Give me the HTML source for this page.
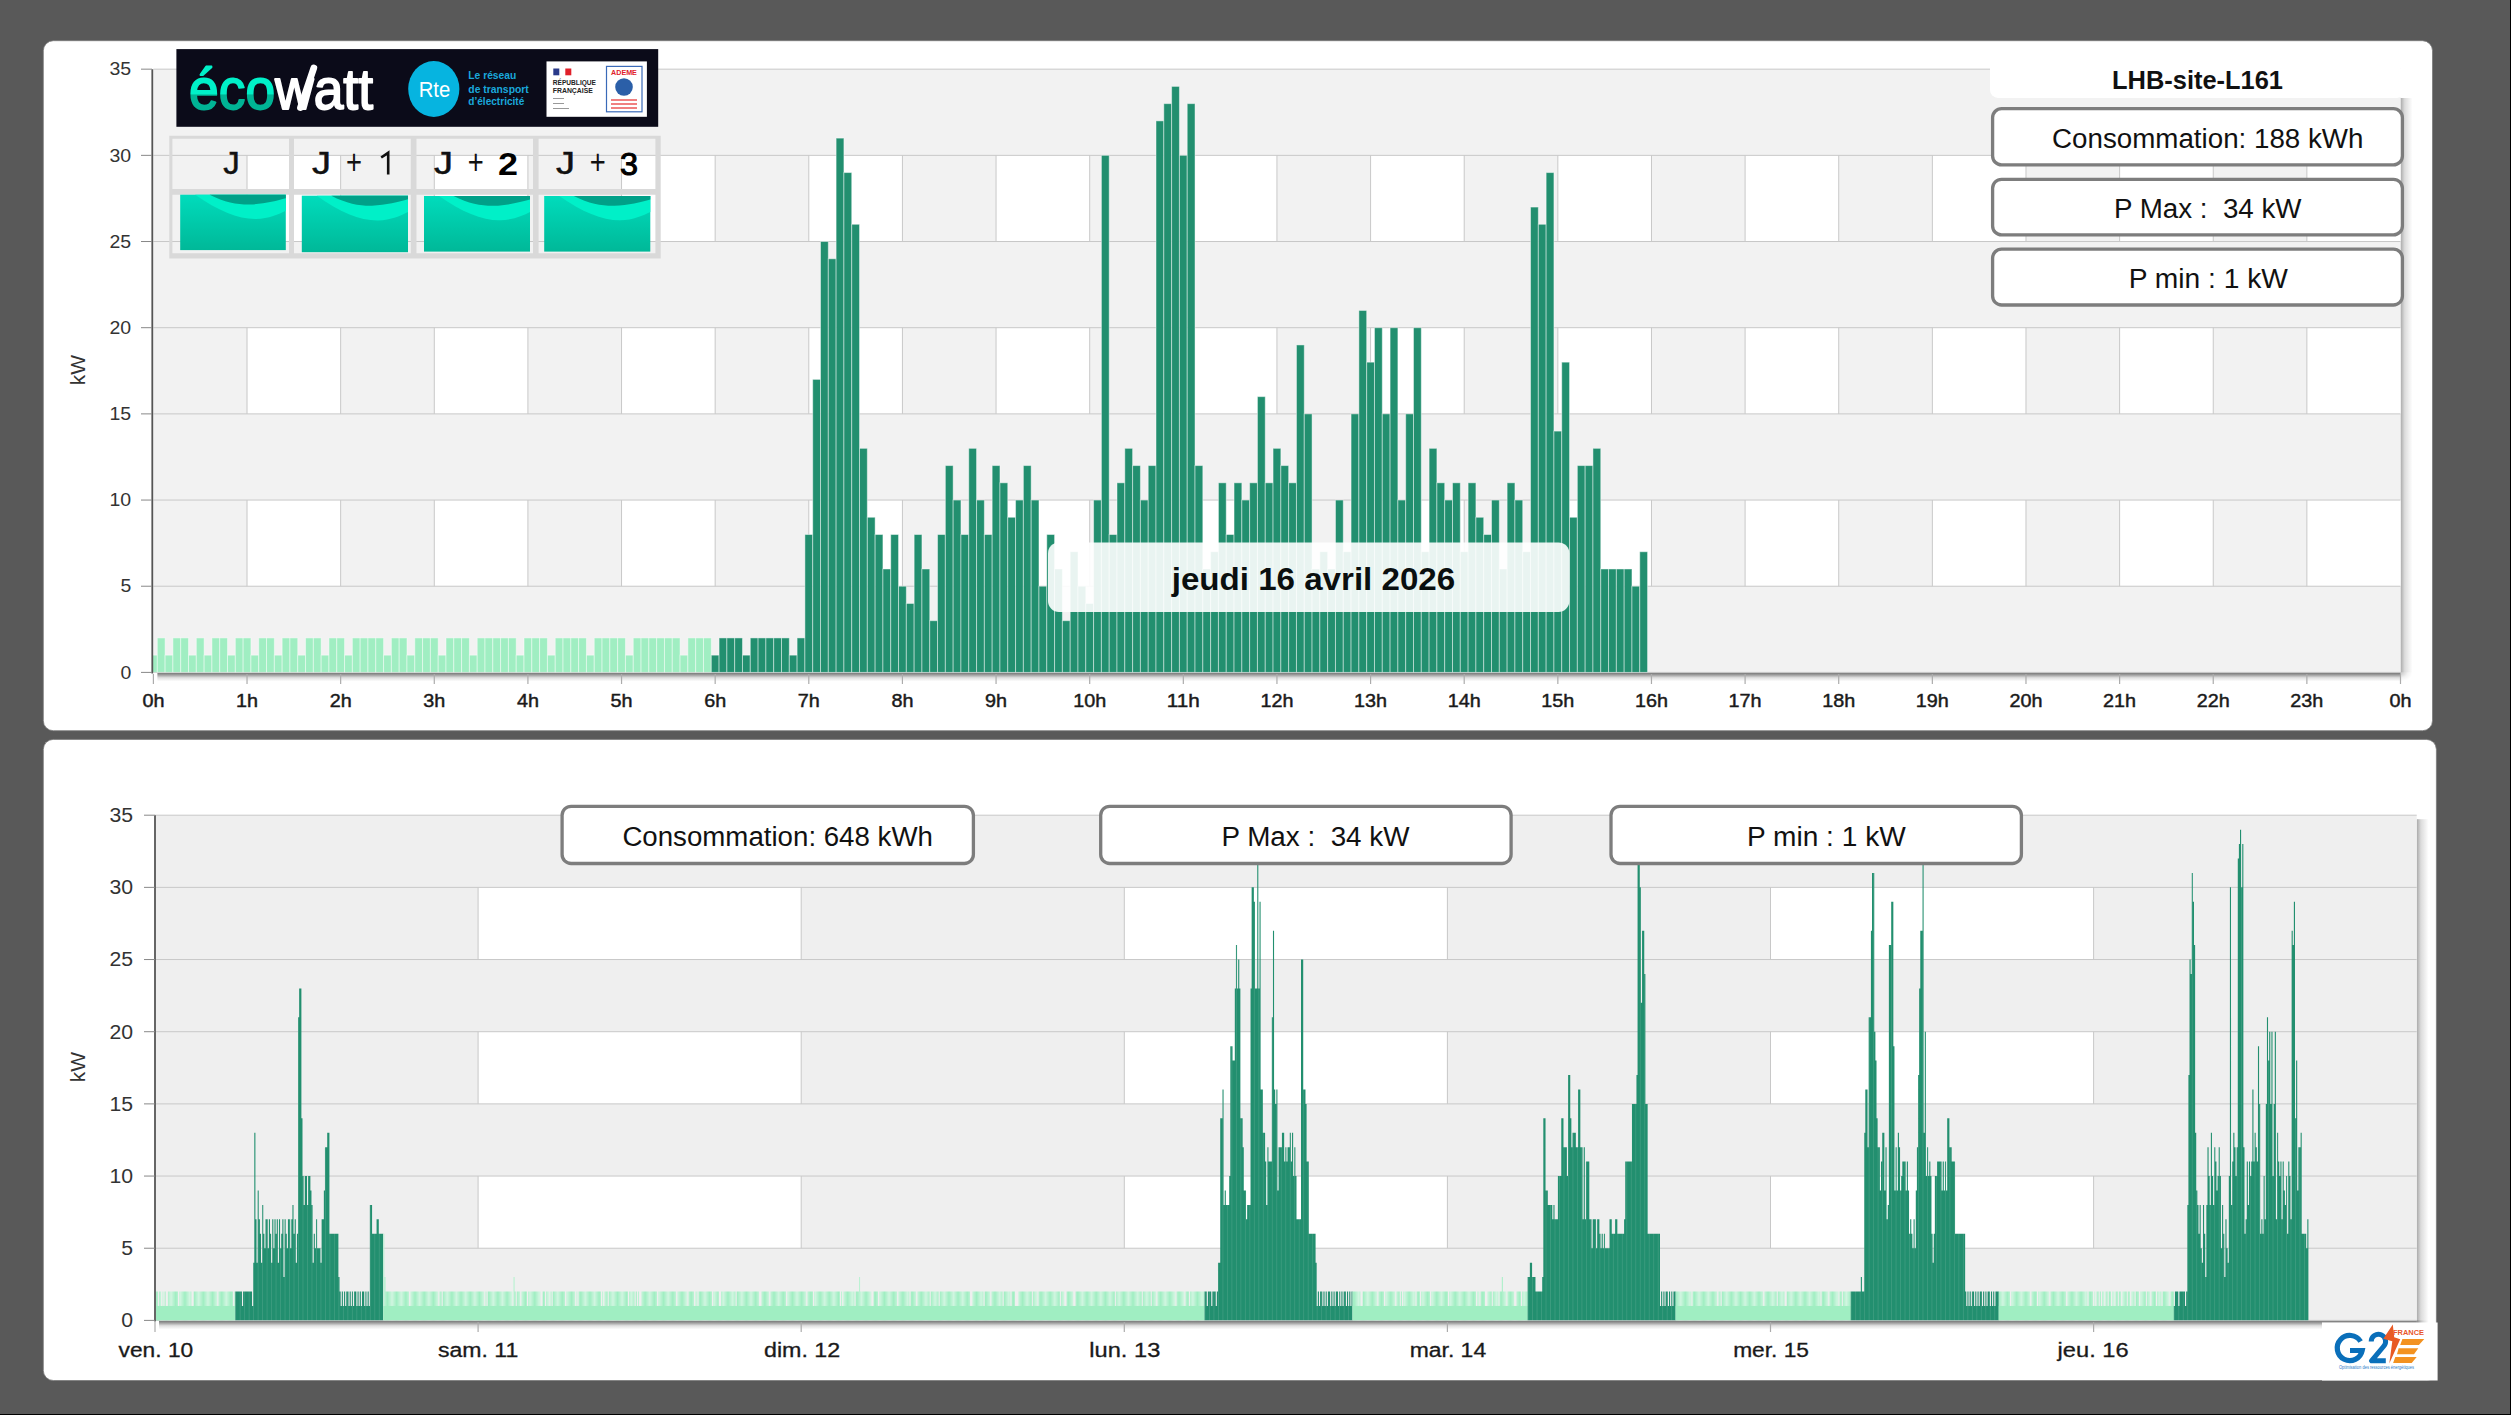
<!DOCTYPE html><html><head><meta charset="utf-8"><style>html,body{margin:0;padding:0;background:#595959;width:2511px;height:1415px;overflow:hidden}svg{display:block}text{font-family:"Liberation Sans",sans-serif}</style></head><body>
<svg width="2511" height="1415" viewBox="0 0 2511 1415">
<defs>
<linearGradient id="tealg" x1="0" y1="0" x2="0" y2="1"><stop offset="0" stop-color="#00dcbc"/><stop offset="1" stop-color="#00b898"/></linearGradient>
<clipPath id="clip1"><rect x="153" y="60" width="2248.5" height="612.4"/></clipPath>
<clipPath id="clip2"><rect x="155" y="800" width="2261.7" height="520.4"/></clipPath>
<linearGradient id="shR" x1="0" y1="0" x2="1" y2="0"><stop offset="0" stop-color="#000" stop-opacity="0.34"/><stop offset="0.35" stop-color="#000" stop-opacity="0.14"/><stop offset="1" stop-color="#000" stop-opacity="0"/></linearGradient>
<linearGradient id="shB" x1="0" y1="0" x2="0" y2="1"><stop offset="0" stop-color="#000" stop-opacity="0.56"/><stop offset="0.25" stop-color="#000" stop-opacity="0.4"/><stop offset="0.6" stop-color="#000" stop-opacity="0.12"/><stop offset="1" stop-color="#000" stop-opacity="0"/></linearGradient>
<radialGradient id="shC" cx="0" cy="0" r="1"><stop offset="0" stop-color="#000" stop-opacity="0.22"/><stop offset="0.6" stop-color="#000" stop-opacity="0.05"/><stop offset="1" stop-color="#000" stop-opacity="0"/></radialGradient>
<pattern id="lgp" patternUnits="userSpaceOnUse" x="154.4391" y="0" width="1.12188" height="10"><rect width="2" height="10" fill="#a0eec2"/><rect x="0" width="0.5" height="10" fill="#d6f6e4"/></pattern>
<pattern id="dgp" patternUnits="userSpaceOnUse" x="154.4391" y="0" width="4.48750" height="10"><rect width="6" height="10" fill="#228f6f"/><rect x="0" width="0.4" height="10" fill="#5aab90"/></pattern>
</defs>
<rect x="0" y="0" width="2511" height="1415" fill="#595959"/>
<rect x="2510" y="0" width="1" height="1415" fill="#000"/>
<rect x="0" y="1414" width="2511" height="1" fill="#000"/>
<rect x="43.3" y="40.7" width="2389.2" height="690" rx="10" fill="#fff" stroke="#7a7a7a" stroke-width="0.8"/>
<rect x="43.3" y="739.4" width="2393.1" height="641.1" rx="10" fill="#fff" stroke="#7a7a7a" stroke-width="0.8"/>
<rect x="2400.5" y="98" width="12" height="574.4" fill="url(#shR)"/>
<rect x="157.4" y="672.4" width="2243.1" height="9" fill="url(#shB)"/>
<rect x="2400.5" y="672.4" width="12" height="9" fill="url(#shC)"/>
<rect x="153.4" y="69.17" width="2247.1" height="603.23" fill="#f2f2f2"/>
<rect x="247.03" y="500.05" width="93.63" height="86.17" fill="#fff"/>
<rect x="434.29" y="500.05" width="93.63" height="86.17" fill="#fff"/>
<rect x="621.55" y="500.05" width="93.63" height="86.17" fill="#fff"/>
<rect x="808.8" y="500.05" width="93.63" height="86.17" fill="#fff"/>
<rect x="996.06" y="500.05" width="93.63" height="86.17" fill="#fff"/>
<rect x="1183.32" y="500.05" width="93.63" height="86.17" fill="#fff"/>
<rect x="1370.58" y="500.05" width="93.63" height="86.17" fill="#fff"/>
<rect x="1557.84" y="500.05" width="93.63" height="86.17" fill="#fff"/>
<rect x="1745.1" y="500.05" width="93.63" height="86.17" fill="#fff"/>
<rect x="1932.35" y="500.05" width="93.63" height="86.17" fill="#fff"/>
<rect x="2119.61" y="500.05" width="93.63" height="86.17" fill="#fff"/>
<rect x="2306.87" y="500.05" width="93.63" height="86.17" fill="#fff"/>
<line x1="247.03" y1="500.05" x2="247.03" y2="586.23" stroke="#c8c8c8" stroke-width="1"/>
<line x1="340.66" y1="500.05" x2="340.66" y2="586.23" stroke="#c8c8c8" stroke-width="1"/>
<line x1="434.29" y1="500.05" x2="434.29" y2="586.23" stroke="#c8c8c8" stroke-width="1"/>
<line x1="527.92" y1="500.05" x2="527.92" y2="586.23" stroke="#c8c8c8" stroke-width="1"/>
<line x1="621.55" y1="500.05" x2="621.55" y2="586.23" stroke="#c8c8c8" stroke-width="1"/>
<line x1="715.17" y1="500.05" x2="715.17" y2="586.23" stroke="#c8c8c8" stroke-width="1"/>
<line x1="808.8" y1="500.05" x2="808.8" y2="586.23" stroke="#c8c8c8" stroke-width="1"/>
<line x1="902.43" y1="500.05" x2="902.43" y2="586.23" stroke="#c8c8c8" stroke-width="1"/>
<line x1="996.06" y1="500.05" x2="996.06" y2="586.23" stroke="#c8c8c8" stroke-width="1"/>
<line x1="1089.69" y1="500.05" x2="1089.69" y2="586.23" stroke="#c8c8c8" stroke-width="1"/>
<line x1="1183.32" y1="500.05" x2="1183.32" y2="586.23" stroke="#c8c8c8" stroke-width="1"/>
<line x1="1276.95" y1="500.05" x2="1276.95" y2="586.23" stroke="#c8c8c8" stroke-width="1"/>
<line x1="1370.58" y1="500.05" x2="1370.58" y2="586.23" stroke="#c8c8c8" stroke-width="1"/>
<line x1="1464.21" y1="500.05" x2="1464.21" y2="586.23" stroke="#c8c8c8" stroke-width="1"/>
<line x1="1557.84" y1="500.05" x2="1557.84" y2="586.23" stroke="#c8c8c8" stroke-width="1"/>
<line x1="1651.47" y1="500.05" x2="1651.47" y2="586.23" stroke="#c8c8c8" stroke-width="1"/>
<line x1="1745.1" y1="500.05" x2="1745.1" y2="586.23" stroke="#c8c8c8" stroke-width="1"/>
<line x1="1838.72" y1="500.05" x2="1838.72" y2="586.23" stroke="#c8c8c8" stroke-width="1"/>
<line x1="1932.35" y1="500.05" x2="1932.35" y2="586.23" stroke="#c8c8c8" stroke-width="1"/>
<line x1="2025.98" y1="500.05" x2="2025.98" y2="586.23" stroke="#c8c8c8" stroke-width="1"/>
<line x1="2119.61" y1="500.05" x2="2119.61" y2="586.23" stroke="#c8c8c8" stroke-width="1"/>
<line x1="2213.24" y1="500.05" x2="2213.24" y2="586.23" stroke="#c8c8c8" stroke-width="1"/>
<line x1="2306.87" y1="500.05" x2="2306.87" y2="586.23" stroke="#c8c8c8" stroke-width="1"/>
<rect x="247.03" y="327.7" width="93.63" height="86.17" fill="#fff"/>
<rect x="434.29" y="327.7" width="93.63" height="86.17" fill="#fff"/>
<rect x="621.55" y="327.7" width="93.63" height="86.17" fill="#fff"/>
<rect x="808.8" y="327.7" width="93.63" height="86.17" fill="#fff"/>
<rect x="996.06" y="327.7" width="93.63" height="86.17" fill="#fff"/>
<rect x="1183.32" y="327.7" width="93.63" height="86.17" fill="#fff"/>
<rect x="1370.58" y="327.7" width="93.63" height="86.17" fill="#fff"/>
<rect x="1557.84" y="327.7" width="93.63" height="86.17" fill="#fff"/>
<rect x="1745.1" y="327.7" width="93.63" height="86.17" fill="#fff"/>
<rect x="1932.35" y="327.7" width="93.63" height="86.17" fill="#fff"/>
<rect x="2119.61" y="327.7" width="93.63" height="86.17" fill="#fff"/>
<rect x="2306.87" y="327.7" width="93.63" height="86.17" fill="#fff"/>
<line x1="247.03" y1="327.7" x2="247.03" y2="413.88" stroke="#c8c8c8" stroke-width="1"/>
<line x1="340.66" y1="327.7" x2="340.66" y2="413.88" stroke="#c8c8c8" stroke-width="1"/>
<line x1="434.29" y1="327.7" x2="434.29" y2="413.88" stroke="#c8c8c8" stroke-width="1"/>
<line x1="527.92" y1="327.7" x2="527.92" y2="413.88" stroke="#c8c8c8" stroke-width="1"/>
<line x1="621.55" y1="327.7" x2="621.55" y2="413.88" stroke="#c8c8c8" stroke-width="1"/>
<line x1="715.17" y1="327.7" x2="715.17" y2="413.88" stroke="#c8c8c8" stroke-width="1"/>
<line x1="808.8" y1="327.7" x2="808.8" y2="413.88" stroke="#c8c8c8" stroke-width="1"/>
<line x1="902.43" y1="327.7" x2="902.43" y2="413.88" stroke="#c8c8c8" stroke-width="1"/>
<line x1="996.06" y1="327.7" x2="996.06" y2="413.88" stroke="#c8c8c8" stroke-width="1"/>
<line x1="1089.69" y1="327.7" x2="1089.69" y2="413.88" stroke="#c8c8c8" stroke-width="1"/>
<line x1="1183.32" y1="327.7" x2="1183.32" y2="413.88" stroke="#c8c8c8" stroke-width="1"/>
<line x1="1276.95" y1="327.7" x2="1276.95" y2="413.88" stroke="#c8c8c8" stroke-width="1"/>
<line x1="1370.58" y1="327.7" x2="1370.58" y2="413.88" stroke="#c8c8c8" stroke-width="1"/>
<line x1="1464.21" y1="327.7" x2="1464.21" y2="413.88" stroke="#c8c8c8" stroke-width="1"/>
<line x1="1557.84" y1="327.7" x2="1557.84" y2="413.88" stroke="#c8c8c8" stroke-width="1"/>
<line x1="1651.47" y1="327.7" x2="1651.47" y2="413.88" stroke="#c8c8c8" stroke-width="1"/>
<line x1="1745.1" y1="327.7" x2="1745.1" y2="413.88" stroke="#c8c8c8" stroke-width="1"/>
<line x1="1838.72" y1="327.7" x2="1838.72" y2="413.88" stroke="#c8c8c8" stroke-width="1"/>
<line x1="1932.35" y1="327.7" x2="1932.35" y2="413.88" stroke="#c8c8c8" stroke-width="1"/>
<line x1="2025.98" y1="327.7" x2="2025.98" y2="413.88" stroke="#c8c8c8" stroke-width="1"/>
<line x1="2119.61" y1="327.7" x2="2119.61" y2="413.88" stroke="#c8c8c8" stroke-width="1"/>
<line x1="2213.24" y1="327.7" x2="2213.24" y2="413.88" stroke="#c8c8c8" stroke-width="1"/>
<line x1="2306.87" y1="327.7" x2="2306.87" y2="413.88" stroke="#c8c8c8" stroke-width="1"/>
<rect x="247.03" y="155.35" width="93.63" height="86.17" fill="#fff"/>
<rect x="434.29" y="155.35" width="93.63" height="86.17" fill="#fff"/>
<rect x="621.55" y="155.35" width="93.63" height="86.17" fill="#fff"/>
<rect x="808.8" y="155.35" width="93.63" height="86.17" fill="#fff"/>
<rect x="996.06" y="155.35" width="93.63" height="86.17" fill="#fff"/>
<rect x="1183.32" y="155.35" width="93.63" height="86.17" fill="#fff"/>
<rect x="1370.58" y="155.35" width="93.63" height="86.17" fill="#fff"/>
<rect x="1557.84" y="155.35" width="93.63" height="86.17" fill="#fff"/>
<rect x="1745.1" y="155.35" width="93.63" height="86.17" fill="#fff"/>
<rect x="1932.35" y="155.35" width="93.63" height="86.17" fill="#fff"/>
<rect x="2119.61" y="155.35" width="93.63" height="86.17" fill="#fff"/>
<rect x="2306.87" y="155.35" width="93.63" height="86.17" fill="#fff"/>
<line x1="247.03" y1="155.35" x2="247.03" y2="241.52" stroke="#c8c8c8" stroke-width="1"/>
<line x1="340.66" y1="155.35" x2="340.66" y2="241.52" stroke="#c8c8c8" stroke-width="1"/>
<line x1="434.29" y1="155.35" x2="434.29" y2="241.52" stroke="#c8c8c8" stroke-width="1"/>
<line x1="527.92" y1="155.35" x2="527.92" y2="241.52" stroke="#c8c8c8" stroke-width="1"/>
<line x1="621.55" y1="155.35" x2="621.55" y2="241.52" stroke="#c8c8c8" stroke-width="1"/>
<line x1="715.17" y1="155.35" x2="715.17" y2="241.52" stroke="#c8c8c8" stroke-width="1"/>
<line x1="808.8" y1="155.35" x2="808.8" y2="241.52" stroke="#c8c8c8" stroke-width="1"/>
<line x1="902.43" y1="155.35" x2="902.43" y2="241.52" stroke="#c8c8c8" stroke-width="1"/>
<line x1="996.06" y1="155.35" x2="996.06" y2="241.52" stroke="#c8c8c8" stroke-width="1"/>
<line x1="1089.69" y1="155.35" x2="1089.69" y2="241.52" stroke="#c8c8c8" stroke-width="1"/>
<line x1="1183.32" y1="155.35" x2="1183.32" y2="241.52" stroke="#c8c8c8" stroke-width="1"/>
<line x1="1276.95" y1="155.35" x2="1276.95" y2="241.52" stroke="#c8c8c8" stroke-width="1"/>
<line x1="1370.58" y1="155.35" x2="1370.58" y2="241.52" stroke="#c8c8c8" stroke-width="1"/>
<line x1="1464.21" y1="155.35" x2="1464.21" y2="241.52" stroke="#c8c8c8" stroke-width="1"/>
<line x1="1557.84" y1="155.35" x2="1557.84" y2="241.52" stroke="#c8c8c8" stroke-width="1"/>
<line x1="1651.47" y1="155.35" x2="1651.47" y2="241.52" stroke="#c8c8c8" stroke-width="1"/>
<line x1="1745.1" y1="155.35" x2="1745.1" y2="241.52" stroke="#c8c8c8" stroke-width="1"/>
<line x1="1838.72" y1="155.35" x2="1838.72" y2="241.52" stroke="#c8c8c8" stroke-width="1"/>
<line x1="1932.35" y1="155.35" x2="1932.35" y2="241.52" stroke="#c8c8c8" stroke-width="1"/>
<line x1="2025.98" y1="155.35" x2="2025.98" y2="241.52" stroke="#c8c8c8" stroke-width="1"/>
<line x1="2119.61" y1="155.35" x2="2119.61" y2="241.52" stroke="#c8c8c8" stroke-width="1"/>
<line x1="2213.24" y1="155.35" x2="2213.24" y2="241.52" stroke="#c8c8c8" stroke-width="1"/>
<line x1="2306.87" y1="155.35" x2="2306.87" y2="241.52" stroke="#c8c8c8" stroke-width="1"/>
<line x1="153.4" y1="672.4" x2="2400.5" y2="672.4" stroke="#c8c8c8" stroke-width="1"/>
<line x1="153.4" y1="586.23" x2="2400.5" y2="586.23" stroke="#c8c8c8" stroke-width="1"/>
<line x1="153.4" y1="500.05" x2="2400.5" y2="500.05" stroke="#c8c8c8" stroke-width="1"/>
<line x1="153.4" y1="413.88" x2="2400.5" y2="413.88" stroke="#c8c8c8" stroke-width="1"/>
<line x1="153.4" y1="327.7" x2="2400.5" y2="327.7" stroke="#c8c8c8" stroke-width="1"/>
<line x1="153.4" y1="241.52" x2="2400.5" y2="241.52" stroke="#c8c8c8" stroke-width="1"/>
<line x1="153.4" y1="155.35" x2="2400.5" y2="155.35" stroke="#c8c8c8" stroke-width="1"/>
<line x1="153.4" y1="69.17" x2="2400.5" y2="69.17" stroke="#c8c8c8" stroke-width="1"/>
<g clip-path="url(#clip1)">
<rect x="149.5" y="655.16" width="7.8" height="17.23" fill="#a0eec2" stroke="rgba(255,255,255,0.45)" stroke-width="1"/>
<rect x="157.3" y="637.93" width="7.8" height="34.47" fill="#a0eec2" stroke="rgba(255,255,255,0.45)" stroke-width="1"/>
<rect x="165.1" y="655.16" width="7.8" height="17.23" fill="#a0eec2" stroke="rgba(255,255,255,0.45)" stroke-width="1"/>
<rect x="172.91" y="637.93" width="7.8" height="34.47" fill="#a0eec2" stroke="rgba(255,255,255,0.45)" stroke-width="1"/>
<rect x="180.71" y="637.93" width="7.8" height="34.47" fill="#a0eec2" stroke="rgba(255,255,255,0.45)" stroke-width="1"/>
<rect x="188.51" y="655.16" width="7.8" height="17.23" fill="#a0eec2" stroke="rgba(255,255,255,0.45)" stroke-width="1"/>
<rect x="196.31" y="637.93" width="7.8" height="34.47" fill="#a0eec2" stroke="rgba(255,255,255,0.45)" stroke-width="1"/>
<rect x="204.12" y="655.16" width="7.8" height="17.23" fill="#a0eec2" stroke="rgba(255,255,255,0.45)" stroke-width="1"/>
<rect x="211.92" y="637.93" width="7.8" height="34.47" fill="#a0eec2" stroke="rgba(255,255,255,0.45)" stroke-width="1"/>
<rect x="219.72" y="637.93" width="7.8" height="34.47" fill="#a0eec2" stroke="rgba(255,255,255,0.45)" stroke-width="1"/>
<rect x="227.52" y="655.16" width="7.8" height="17.23" fill="#a0eec2" stroke="rgba(255,255,255,0.45)" stroke-width="1"/>
<rect x="235.33" y="637.93" width="7.8" height="34.47" fill="#a0eec2" stroke="rgba(255,255,255,0.45)" stroke-width="1"/>
<rect x="243.13" y="637.93" width="7.8" height="34.47" fill="#a0eec2" stroke="rgba(255,255,255,0.45)" stroke-width="1"/>
<rect x="250.93" y="655.16" width="7.8" height="17.23" fill="#a0eec2" stroke="rgba(255,255,255,0.45)" stroke-width="1"/>
<rect x="258.73" y="637.93" width="7.8" height="34.47" fill="#a0eec2" stroke="rgba(255,255,255,0.45)" stroke-width="1"/>
<rect x="266.54" y="637.93" width="7.8" height="34.47" fill="#a0eec2" stroke="rgba(255,255,255,0.45)" stroke-width="1"/>
<rect x="274.34" y="655.16" width="7.8" height="17.23" fill="#a0eec2" stroke="rgba(255,255,255,0.45)" stroke-width="1"/>
<rect x="282.14" y="637.93" width="7.8" height="34.47" fill="#a0eec2" stroke="rgba(255,255,255,0.45)" stroke-width="1"/>
<rect x="289.94" y="637.93" width="7.8" height="34.47" fill="#a0eec2" stroke="rgba(255,255,255,0.45)" stroke-width="1"/>
<rect x="297.74" y="655.16" width="7.8" height="17.23" fill="#a0eec2" stroke="rgba(255,255,255,0.45)" stroke-width="1"/>
<rect x="305.55" y="637.93" width="7.8" height="34.47" fill="#a0eec2" stroke="rgba(255,255,255,0.45)" stroke-width="1"/>
<rect x="313.35" y="637.93" width="7.8" height="34.47" fill="#a0eec2" stroke="rgba(255,255,255,0.45)" stroke-width="1"/>
<rect x="321.15" y="655.16" width="7.8" height="17.23" fill="#a0eec2" stroke="rgba(255,255,255,0.45)" stroke-width="1"/>
<rect x="328.95" y="637.93" width="7.8" height="34.47" fill="#a0eec2" stroke="rgba(255,255,255,0.45)" stroke-width="1"/>
<rect x="336.76" y="637.93" width="7.8" height="34.47" fill="#a0eec2" stroke="rgba(255,255,255,0.45)" stroke-width="1"/>
<rect x="344.56" y="655.16" width="7.8" height="17.23" fill="#a0eec2" stroke="rgba(255,255,255,0.45)" stroke-width="1"/>
<rect x="352.36" y="637.93" width="7.8" height="34.47" fill="#a0eec2" stroke="rgba(255,255,255,0.45)" stroke-width="1"/>
<rect x="360.16" y="637.93" width="7.8" height="34.47" fill="#a0eec2" stroke="rgba(255,255,255,0.45)" stroke-width="1"/>
<rect x="367.97" y="637.93" width="7.8" height="34.47" fill="#a0eec2" stroke="rgba(255,255,255,0.45)" stroke-width="1"/>
<rect x="375.77" y="637.93" width="7.8" height="34.47" fill="#a0eec2" stroke="rgba(255,255,255,0.45)" stroke-width="1"/>
<rect x="383.57" y="655.16" width="7.8" height="17.23" fill="#a0eec2" stroke="rgba(255,255,255,0.45)" stroke-width="1"/>
<rect x="391.37" y="637.93" width="7.8" height="34.47" fill="#a0eec2" stroke="rgba(255,255,255,0.45)" stroke-width="1"/>
<rect x="399.18" y="637.93" width="7.8" height="34.47" fill="#a0eec2" stroke="rgba(255,255,255,0.45)" stroke-width="1"/>
<rect x="406.98" y="655.16" width="7.8" height="17.23" fill="#a0eec2" stroke="rgba(255,255,255,0.45)" stroke-width="1"/>
<rect x="414.78" y="637.93" width="7.8" height="34.47" fill="#a0eec2" stroke="rgba(255,255,255,0.45)" stroke-width="1"/>
<rect x="422.58" y="637.93" width="7.8" height="34.47" fill="#a0eec2" stroke="rgba(255,255,255,0.45)" stroke-width="1"/>
<rect x="430.39" y="637.93" width="7.8" height="34.47" fill="#a0eec2" stroke="rgba(255,255,255,0.45)" stroke-width="1"/>
<rect x="438.19" y="655.16" width="7.8" height="17.23" fill="#a0eec2" stroke="rgba(255,255,255,0.45)" stroke-width="1"/>
<rect x="445.99" y="637.93" width="7.8" height="34.47" fill="#a0eec2" stroke="rgba(255,255,255,0.45)" stroke-width="1"/>
<rect x="453.79" y="637.93" width="7.8" height="34.47" fill="#a0eec2" stroke="rgba(255,255,255,0.45)" stroke-width="1"/>
<rect x="461.6" y="637.93" width="7.8" height="34.47" fill="#a0eec2" stroke="rgba(255,255,255,0.45)" stroke-width="1"/>
<rect x="469.4" y="655.16" width="7.8" height="17.23" fill="#a0eec2" stroke="rgba(255,255,255,0.45)" stroke-width="1"/>
<rect x="477.2" y="637.93" width="7.8" height="34.47" fill="#a0eec2" stroke="rgba(255,255,255,0.45)" stroke-width="1"/>
<rect x="485" y="637.93" width="7.8" height="34.47" fill="#a0eec2" stroke="rgba(255,255,255,0.45)" stroke-width="1"/>
<rect x="492.81" y="637.93" width="7.8" height="34.47" fill="#a0eec2" stroke="rgba(255,255,255,0.45)" stroke-width="1"/>
<rect x="500.61" y="637.93" width="7.8" height="34.47" fill="#a0eec2" stroke="rgba(255,255,255,0.45)" stroke-width="1"/>
<rect x="508.41" y="637.93" width="7.8" height="34.47" fill="#a0eec2" stroke="rgba(255,255,255,0.45)" stroke-width="1"/>
<rect x="516.21" y="655.16" width="7.8" height="17.23" fill="#a0eec2" stroke="rgba(255,255,255,0.45)" stroke-width="1"/>
<rect x="524.02" y="637.93" width="7.8" height="34.47" fill="#a0eec2" stroke="rgba(255,255,255,0.45)" stroke-width="1"/>
<rect x="531.82" y="637.93" width="7.8" height="34.47" fill="#a0eec2" stroke="rgba(255,255,255,0.45)" stroke-width="1"/>
<rect x="539.62" y="637.93" width="7.8" height="34.47" fill="#a0eec2" stroke="rgba(255,255,255,0.45)" stroke-width="1"/>
<rect x="547.42" y="655.16" width="7.8" height="17.23" fill="#a0eec2" stroke="rgba(255,255,255,0.45)" stroke-width="1"/>
<rect x="555.23" y="637.93" width="7.8" height="34.47" fill="#a0eec2" stroke="rgba(255,255,255,0.45)" stroke-width="1"/>
<rect x="563.03" y="637.93" width="7.8" height="34.47" fill="#a0eec2" stroke="rgba(255,255,255,0.45)" stroke-width="1"/>
<rect x="570.83" y="637.93" width="7.8" height="34.47" fill="#a0eec2" stroke="rgba(255,255,255,0.45)" stroke-width="1"/>
<rect x="578.63" y="637.93" width="7.8" height="34.47" fill="#a0eec2" stroke="rgba(255,255,255,0.45)" stroke-width="1"/>
<rect x="586.43" y="655.16" width="7.8" height="17.23" fill="#a0eec2" stroke="rgba(255,255,255,0.45)" stroke-width="1"/>
<rect x="594.24" y="637.93" width="7.8" height="34.47" fill="#a0eec2" stroke="rgba(255,255,255,0.45)" stroke-width="1"/>
<rect x="602.04" y="637.93" width="7.8" height="34.47" fill="#a0eec2" stroke="rgba(255,255,255,0.45)" stroke-width="1"/>
<rect x="609.84" y="637.93" width="7.8" height="34.47" fill="#a0eec2" stroke="rgba(255,255,255,0.45)" stroke-width="1"/>
<rect x="617.64" y="637.93" width="7.8" height="34.47" fill="#a0eec2" stroke="rgba(255,255,255,0.45)" stroke-width="1"/>
<rect x="625.45" y="655.16" width="7.8" height="17.23" fill="#a0eec2" stroke="rgba(255,255,255,0.45)" stroke-width="1"/>
<rect x="633.25" y="637.93" width="7.8" height="34.47" fill="#a0eec2" stroke="rgba(255,255,255,0.45)" stroke-width="1"/>
<rect x="641.05" y="637.93" width="7.8" height="34.47" fill="#a0eec2" stroke="rgba(255,255,255,0.45)" stroke-width="1"/>
<rect x="648.85" y="637.93" width="7.8" height="34.47" fill="#a0eec2" stroke="rgba(255,255,255,0.45)" stroke-width="1"/>
<rect x="656.66" y="637.93" width="7.8" height="34.47" fill="#a0eec2" stroke="rgba(255,255,255,0.45)" stroke-width="1"/>
<rect x="664.46" y="637.93" width="7.8" height="34.47" fill="#a0eec2" stroke="rgba(255,255,255,0.45)" stroke-width="1"/>
<rect x="672.26" y="637.93" width="7.8" height="34.47" fill="#a0eec2" stroke="rgba(255,255,255,0.45)" stroke-width="1"/>
<rect x="680.06" y="655.16" width="7.8" height="17.23" fill="#a0eec2" stroke="rgba(255,255,255,0.45)" stroke-width="1"/>
<rect x="687.87" y="637.93" width="7.8" height="34.47" fill="#a0eec2" stroke="rgba(255,255,255,0.45)" stroke-width="1"/>
<rect x="695.67" y="637.93" width="7.8" height="34.47" fill="#a0eec2" stroke="rgba(255,255,255,0.45)" stroke-width="1"/>
<rect x="703.47" y="637.93" width="7.8" height="34.47" fill="#a0eec2" stroke="rgba(255,255,255,0.45)" stroke-width="1"/>
<rect x="711.27" y="655.16" width="7.8" height="17.23" fill="#228f6f" stroke="rgba(255,255,255,0.45)" stroke-width="1"/>
<rect x="719.08" y="637.93" width="7.8" height="34.47" fill="#228f6f" stroke="rgba(255,255,255,0.45)" stroke-width="1"/>
<rect x="726.88" y="637.93" width="7.8" height="34.47" fill="#228f6f" stroke="rgba(255,255,255,0.45)" stroke-width="1"/>
<rect x="734.68" y="637.93" width="7.8" height="34.47" fill="#228f6f" stroke="rgba(255,255,255,0.45)" stroke-width="1"/>
<rect x="742.48" y="655.16" width="7.8" height="17.23" fill="#228f6f" stroke="rgba(255,255,255,0.45)" stroke-width="1"/>
<rect x="750.29" y="637.93" width="7.8" height="34.47" fill="#228f6f" stroke="rgba(255,255,255,0.45)" stroke-width="1"/>
<rect x="758.09" y="637.93" width="7.8" height="34.47" fill="#228f6f" stroke="rgba(255,255,255,0.45)" stroke-width="1"/>
<rect x="765.89" y="637.93" width="7.8" height="34.47" fill="#228f6f" stroke="rgba(255,255,255,0.45)" stroke-width="1"/>
<rect x="773.69" y="637.93" width="7.8" height="34.47" fill="#228f6f" stroke="rgba(255,255,255,0.45)" stroke-width="1"/>
<rect x="781.5" y="637.93" width="7.8" height="34.47" fill="#228f6f" stroke="rgba(255,255,255,0.45)" stroke-width="1"/>
<rect x="789.3" y="655.16" width="7.8" height="17.23" fill="#228f6f" stroke="rgba(255,255,255,0.45)" stroke-width="1"/>
<rect x="797.1" y="637.93" width="7.8" height="34.47" fill="#228f6f" stroke="rgba(255,255,255,0.45)" stroke-width="1"/>
<rect x="804.9" y="534.52" width="7.8" height="137.88" fill="#228f6f" stroke="rgba(255,255,255,0.45)" stroke-width="1"/>
<rect x="812.71" y="379.4" width="7.8" height="293" fill="#228f6f" stroke="rgba(255,255,255,0.45)" stroke-width="1"/>
<rect x="820.51" y="241.52" width="7.8" height="430.88" fill="#228f6f" stroke="rgba(255,255,255,0.45)" stroke-width="1"/>
<rect x="828.31" y="258.76" width="7.8" height="413.64" fill="#228f6f" stroke="rgba(255,255,255,0.45)" stroke-width="1"/>
<rect x="836.11" y="138.12" width="7.8" height="534.28" fill="#228f6f" stroke="rgba(255,255,255,0.45)" stroke-width="1"/>
<rect x="843.92" y="172.58" width="7.8" height="499.81" fill="#228f6f" stroke="rgba(255,255,255,0.45)" stroke-width="1"/>
<rect x="851.72" y="224.29" width="7.8" height="448.11" fill="#228f6f" stroke="rgba(255,255,255,0.45)" stroke-width="1"/>
<rect x="859.52" y="448.34" width="7.8" height="224.06" fill="#228f6f" stroke="rgba(255,255,255,0.45)" stroke-width="1"/>
<rect x="867.32" y="517.28" width="7.8" height="155.12" fill="#228f6f" stroke="rgba(255,255,255,0.45)" stroke-width="1"/>
<rect x="875.12" y="534.52" width="7.8" height="137.88" fill="#228f6f" stroke="rgba(255,255,255,0.45)" stroke-width="1"/>
<rect x="882.93" y="568.99" width="7.8" height="103.41" fill="#228f6f" stroke="rgba(255,255,255,0.45)" stroke-width="1"/>
<rect x="890.73" y="534.52" width="7.8" height="137.88" fill="#228f6f" stroke="rgba(255,255,255,0.45)" stroke-width="1"/>
<rect x="898.53" y="586.23" width="7.8" height="86.17" fill="#228f6f" stroke="rgba(255,255,255,0.45)" stroke-width="1"/>
<rect x="906.33" y="603.46" width="7.8" height="68.94" fill="#228f6f" stroke="rgba(255,255,255,0.45)" stroke-width="1"/>
<rect x="914.14" y="534.52" width="7.8" height="137.88" fill="#228f6f" stroke="rgba(255,255,255,0.45)" stroke-width="1"/>
<rect x="921.94" y="568.99" width="7.8" height="103.41" fill="#228f6f" stroke="rgba(255,255,255,0.45)" stroke-width="1"/>
<rect x="929.74" y="620.69" width="7.8" height="51.7" fill="#228f6f" stroke="rgba(255,255,255,0.45)" stroke-width="1"/>
<rect x="937.54" y="534.52" width="7.8" height="137.88" fill="#228f6f" stroke="rgba(255,255,255,0.45)" stroke-width="1"/>
<rect x="945.35" y="465.58" width="7.8" height="206.82" fill="#228f6f" stroke="rgba(255,255,255,0.45)" stroke-width="1"/>
<rect x="953.15" y="500.05" width="7.8" height="172.35" fill="#228f6f" stroke="rgba(255,255,255,0.45)" stroke-width="1"/>
<rect x="960.95" y="534.52" width="7.8" height="137.88" fill="#228f6f" stroke="rgba(255,255,255,0.45)" stroke-width="1"/>
<rect x="968.75" y="448.34" width="7.8" height="224.06" fill="#228f6f" stroke="rgba(255,255,255,0.45)" stroke-width="1"/>
<rect x="976.56" y="500.05" width="7.8" height="172.35" fill="#228f6f" stroke="rgba(255,255,255,0.45)" stroke-width="1"/>
<rect x="984.36" y="534.52" width="7.8" height="137.88" fill="#228f6f" stroke="rgba(255,255,255,0.45)" stroke-width="1"/>
<rect x="992.16" y="465.58" width="7.8" height="206.82" fill="#228f6f" stroke="rgba(255,255,255,0.45)" stroke-width="1"/>
<rect x="999.96" y="482.81" width="7.8" height="189.58" fill="#228f6f" stroke="rgba(255,255,255,0.45)" stroke-width="1"/>
<rect x="1007.77" y="517.28" width="7.8" height="155.12" fill="#228f6f" stroke="rgba(255,255,255,0.45)" stroke-width="1"/>
<rect x="1015.57" y="500.05" width="7.8" height="172.35" fill="#228f6f" stroke="rgba(255,255,255,0.45)" stroke-width="1"/>
<rect x="1023.37" y="465.58" width="7.8" height="206.82" fill="#228f6f" stroke="rgba(255,255,255,0.45)" stroke-width="1"/>
<rect x="1031.17" y="500.05" width="7.8" height="172.35" fill="#228f6f" stroke="rgba(255,255,255,0.45)" stroke-width="1"/>
<rect x="1038.98" y="586.23" width="7.8" height="86.17" fill="#228f6f" stroke="rgba(255,255,255,0.45)" stroke-width="1"/>
<rect x="1046.78" y="534.52" width="7.8" height="137.88" fill="#228f6f" stroke="rgba(255,255,255,0.45)" stroke-width="1"/>
<rect x="1054.58" y="568.99" width="7.8" height="103.41" fill="#228f6f" stroke="rgba(255,255,255,0.45)" stroke-width="1"/>
<rect x="1062.38" y="620.69" width="7.8" height="51.7" fill="#228f6f" stroke="rgba(255,255,255,0.45)" stroke-width="1"/>
<rect x="1070.19" y="551.75" width="7.8" height="120.64" fill="#228f6f" stroke="rgba(255,255,255,0.45)" stroke-width="1"/>
<rect x="1077.99" y="586.23" width="7.8" height="86.17" fill="#228f6f" stroke="rgba(255,255,255,0.45)" stroke-width="1"/>
<rect x="1085.79" y="603.46" width="7.8" height="68.94" fill="#228f6f" stroke="rgba(255,255,255,0.45)" stroke-width="1"/>
<rect x="1093.59" y="500.05" width="7.8" height="172.35" fill="#228f6f" stroke="rgba(255,255,255,0.45)" stroke-width="1"/>
<rect x="1101.4" y="155.35" width="7.8" height="517.05" fill="#228f6f" stroke="rgba(255,255,255,0.45)" stroke-width="1"/>
<rect x="1109.2" y="534.52" width="7.8" height="137.88" fill="#228f6f" stroke="rgba(255,255,255,0.45)" stroke-width="1"/>
<rect x="1117" y="482.81" width="7.8" height="189.58" fill="#228f6f" stroke="rgba(255,255,255,0.45)" stroke-width="1"/>
<rect x="1124.8" y="448.34" width="7.8" height="224.06" fill="#228f6f" stroke="rgba(255,255,255,0.45)" stroke-width="1"/>
<rect x="1132.61" y="465.58" width="7.8" height="206.82" fill="#228f6f" stroke="rgba(255,255,255,0.45)" stroke-width="1"/>
<rect x="1140.41" y="500.05" width="7.8" height="172.35" fill="#228f6f" stroke="rgba(255,255,255,0.45)" stroke-width="1"/>
<rect x="1148.21" y="465.58" width="7.8" height="206.82" fill="#228f6f" stroke="rgba(255,255,255,0.45)" stroke-width="1"/>
<rect x="1156.01" y="120.88" width="7.8" height="551.52" fill="#228f6f" stroke="rgba(255,255,255,0.45)" stroke-width="1"/>
<rect x="1163.81" y="103.64" width="7.8" height="568.75" fill="#228f6f" stroke="rgba(255,255,255,0.45)" stroke-width="1"/>
<rect x="1171.62" y="86.41" width="7.8" height="585.99" fill="#228f6f" stroke="rgba(255,255,255,0.45)" stroke-width="1"/>
<rect x="1179.42" y="155.35" width="7.8" height="517.05" fill="#228f6f" stroke="rgba(255,255,255,0.45)" stroke-width="1"/>
<rect x="1187.22" y="103.64" width="7.8" height="568.75" fill="#228f6f" stroke="rgba(255,255,255,0.45)" stroke-width="1"/>
<rect x="1195.02" y="465.58" width="7.8" height="206.82" fill="#228f6f" stroke="rgba(255,255,255,0.45)" stroke-width="1"/>
<rect x="1202.83" y="568.99" width="7.8" height="103.41" fill="#228f6f" stroke="rgba(255,255,255,0.45)" stroke-width="1"/>
<rect x="1210.63" y="551.75" width="7.8" height="120.64" fill="#228f6f" stroke="rgba(255,255,255,0.45)" stroke-width="1"/>
<rect x="1218.43" y="482.81" width="7.8" height="189.58" fill="#228f6f" stroke="rgba(255,255,255,0.45)" stroke-width="1"/>
<rect x="1226.23" y="534.52" width="7.8" height="137.88" fill="#228f6f" stroke="rgba(255,255,255,0.45)" stroke-width="1"/>
<rect x="1234.04" y="482.81" width="7.8" height="189.58" fill="#228f6f" stroke="rgba(255,255,255,0.45)" stroke-width="1"/>
<rect x="1241.84" y="500.05" width="7.8" height="172.35" fill="#228f6f" stroke="rgba(255,255,255,0.45)" stroke-width="1"/>
<rect x="1249.64" y="482.81" width="7.8" height="189.58" fill="#228f6f" stroke="rgba(255,255,255,0.45)" stroke-width="1"/>
<rect x="1257.44" y="396.64" width="7.8" height="275.76" fill="#228f6f" stroke="rgba(255,255,255,0.45)" stroke-width="1"/>
<rect x="1265.25" y="482.81" width="7.8" height="189.58" fill="#228f6f" stroke="rgba(255,255,255,0.45)" stroke-width="1"/>
<rect x="1273.05" y="448.34" width="7.8" height="224.06" fill="#228f6f" stroke="rgba(255,255,255,0.45)" stroke-width="1"/>
<rect x="1280.85" y="465.58" width="7.8" height="206.82" fill="#228f6f" stroke="rgba(255,255,255,0.45)" stroke-width="1"/>
<rect x="1288.65" y="482.81" width="7.8" height="189.58" fill="#228f6f" stroke="rgba(255,255,255,0.45)" stroke-width="1"/>
<rect x="1296.46" y="344.94" width="7.8" height="327.46" fill="#228f6f" stroke="rgba(255,255,255,0.45)" stroke-width="1"/>
<rect x="1304.26" y="413.88" width="7.8" height="258.52" fill="#228f6f" stroke="rgba(255,255,255,0.45)" stroke-width="1"/>
<rect x="1312.06" y="568.99" width="7.8" height="103.41" fill="#228f6f" stroke="rgba(255,255,255,0.45)" stroke-width="1"/>
<rect x="1319.86" y="551.75" width="7.8" height="120.64" fill="#228f6f" stroke="rgba(255,255,255,0.45)" stroke-width="1"/>
<rect x="1327.67" y="568.99" width="7.8" height="103.41" fill="#228f6f" stroke="rgba(255,255,255,0.45)" stroke-width="1"/>
<rect x="1335.47" y="500.05" width="7.8" height="172.35" fill="#228f6f" stroke="rgba(255,255,255,0.45)" stroke-width="1"/>
<rect x="1343.27" y="551.75" width="7.8" height="120.64" fill="#228f6f" stroke="rgba(255,255,255,0.45)" stroke-width="1"/>
<rect x="1351.07" y="413.88" width="7.8" height="258.52" fill="#228f6f" stroke="rgba(255,255,255,0.45)" stroke-width="1"/>
<rect x="1358.88" y="310.46" width="7.8" height="361.94" fill="#228f6f" stroke="rgba(255,255,255,0.45)" stroke-width="1"/>
<rect x="1366.68" y="362.17" width="7.8" height="310.23" fill="#228f6f" stroke="rgba(255,255,255,0.45)" stroke-width="1"/>
<rect x="1374.48" y="327.7" width="7.8" height="344.7" fill="#228f6f" stroke="rgba(255,255,255,0.45)" stroke-width="1"/>
<rect x="1382.28" y="413.88" width="7.8" height="258.52" fill="#228f6f" stroke="rgba(255,255,255,0.45)" stroke-width="1"/>
<rect x="1390.09" y="327.7" width="7.8" height="344.7" fill="#228f6f" stroke="rgba(255,255,255,0.45)" stroke-width="1"/>
<rect x="1397.89" y="500.05" width="7.8" height="172.35" fill="#228f6f" stroke="rgba(255,255,255,0.45)" stroke-width="1"/>
<rect x="1405.69" y="413.88" width="7.8" height="258.52" fill="#228f6f" stroke="rgba(255,255,255,0.45)" stroke-width="1"/>
<rect x="1413.49" y="327.7" width="7.8" height="344.7" fill="#228f6f" stroke="rgba(255,255,255,0.45)" stroke-width="1"/>
<rect x="1421.29" y="551.75" width="7.8" height="120.64" fill="#228f6f" stroke="rgba(255,255,255,0.45)" stroke-width="1"/>
<rect x="1429.1" y="448.34" width="7.8" height="224.06" fill="#228f6f" stroke="rgba(255,255,255,0.45)" stroke-width="1"/>
<rect x="1436.9" y="482.81" width="7.8" height="189.58" fill="#228f6f" stroke="rgba(255,255,255,0.45)" stroke-width="1"/>
<rect x="1444.7" y="500.05" width="7.8" height="172.35" fill="#228f6f" stroke="rgba(255,255,255,0.45)" stroke-width="1"/>
<rect x="1452.5" y="482.81" width="7.8" height="189.58" fill="#228f6f" stroke="rgba(255,255,255,0.45)" stroke-width="1"/>
<rect x="1460.31" y="551.75" width="7.8" height="120.64" fill="#228f6f" stroke="rgba(255,255,255,0.45)" stroke-width="1"/>
<rect x="1468.11" y="482.81" width="7.8" height="189.58" fill="#228f6f" stroke="rgba(255,255,255,0.45)" stroke-width="1"/>
<rect x="1475.91" y="517.28" width="7.8" height="155.12" fill="#228f6f" stroke="rgba(255,255,255,0.45)" stroke-width="1"/>
<rect x="1483.71" y="534.52" width="7.8" height="137.88" fill="#228f6f" stroke="rgba(255,255,255,0.45)" stroke-width="1"/>
<rect x="1491.52" y="500.05" width="7.8" height="172.35" fill="#228f6f" stroke="rgba(255,255,255,0.45)" stroke-width="1"/>
<rect x="1499.32" y="568.99" width="7.8" height="103.41" fill="#228f6f" stroke="rgba(255,255,255,0.45)" stroke-width="1"/>
<rect x="1507.12" y="482.81" width="7.8" height="189.58" fill="#228f6f" stroke="rgba(255,255,255,0.45)" stroke-width="1"/>
<rect x="1514.92" y="500.05" width="7.8" height="172.35" fill="#228f6f" stroke="rgba(255,255,255,0.45)" stroke-width="1"/>
<rect x="1522.73" y="551.75" width="7.8" height="120.64" fill="#228f6f" stroke="rgba(255,255,255,0.45)" stroke-width="1"/>
<rect x="1530.53" y="207.06" width="7.8" height="465.34" fill="#228f6f" stroke="rgba(255,255,255,0.45)" stroke-width="1"/>
<rect x="1538.33" y="224.29" width="7.8" height="448.11" fill="#228f6f" stroke="rgba(255,255,255,0.45)" stroke-width="1"/>
<rect x="1546.13" y="172.58" width="7.8" height="499.81" fill="#228f6f" stroke="rgba(255,255,255,0.45)" stroke-width="1"/>
<rect x="1553.94" y="431.11" width="7.8" height="241.29" fill="#228f6f" stroke="rgba(255,255,255,0.45)" stroke-width="1"/>
<rect x="1561.74" y="362.17" width="7.8" height="310.23" fill="#228f6f" stroke="rgba(255,255,255,0.45)" stroke-width="1"/>
<rect x="1569.54" y="517.28" width="7.8" height="155.12" fill="#228f6f" stroke="rgba(255,255,255,0.45)" stroke-width="1"/>
<rect x="1577.34" y="465.58" width="7.8" height="206.82" fill="#228f6f" stroke="rgba(255,255,255,0.45)" stroke-width="1"/>
<rect x="1585.15" y="465.58" width="7.8" height="206.82" fill="#228f6f" stroke="rgba(255,255,255,0.45)" stroke-width="1"/>
<rect x="1592.95" y="448.34" width="7.8" height="224.06" fill="#228f6f" stroke="rgba(255,255,255,0.45)" stroke-width="1"/>
<rect x="1600.75" y="568.99" width="7.8" height="103.41" fill="#228f6f" stroke="rgba(255,255,255,0.45)" stroke-width="1"/>
<rect x="1608.55" y="568.99" width="7.8" height="103.41" fill="#228f6f" stroke="rgba(255,255,255,0.45)" stroke-width="1"/>
<rect x="1616.36" y="568.99" width="7.8" height="103.41" fill="#228f6f" stroke="rgba(255,255,255,0.45)" stroke-width="1"/>
<rect x="1624.16" y="568.99" width="7.8" height="103.41" fill="#228f6f" stroke="rgba(255,255,255,0.45)" stroke-width="1"/>
<rect x="1631.96" y="586.23" width="7.8" height="86.17" fill="#228f6f" stroke="rgba(255,255,255,0.45)" stroke-width="1"/>
<rect x="1639.76" y="551.75" width="7.8" height="120.64" fill="#228f6f" stroke="rgba(255,255,255,0.45)" stroke-width="1"/>
</g>
<line x1="152.3" y1="69.17" x2="152.3" y2="673.4" stroke="#555" stroke-width="1.8"/>
<line x1="141" y1="672.4" x2="152" y2="672.4" stroke="#888" stroke-width="1"/>
<text x="131.2" y="678.6" font-size="18" fill="#333" text-anchor="end" font-weight="normal" textLength="10.8" lengthAdjust="spacingAndGlyphs" >0</text>
<line x1="141" y1="586.23" x2="152" y2="586.23" stroke="#888" stroke-width="1"/>
<text x="131.2" y="592.43" font-size="18" fill="#333" text-anchor="end" font-weight="normal" textLength="10.8" lengthAdjust="spacingAndGlyphs" >5</text>
<line x1="141" y1="500.05" x2="152" y2="500.05" stroke="#888" stroke-width="1"/>
<text x="131.2" y="506.25" font-size="18" fill="#333" text-anchor="end" font-weight="normal" textLength="21.7" lengthAdjust="spacingAndGlyphs" >10</text>
<line x1="141" y1="413.88" x2="152" y2="413.88" stroke="#888" stroke-width="1"/>
<text x="131.2" y="420.07" font-size="18" fill="#333" text-anchor="end" font-weight="normal" textLength="21.7" lengthAdjust="spacingAndGlyphs" >15</text>
<line x1="141" y1="327.7" x2="152" y2="327.7" stroke="#888" stroke-width="1"/>
<text x="131.2" y="333.9" font-size="18" fill="#333" text-anchor="end" font-weight="normal" textLength="21.7" lengthAdjust="spacingAndGlyphs" >20</text>
<line x1="141" y1="241.52" x2="152" y2="241.52" stroke="#888" stroke-width="1"/>
<text x="131.2" y="247.72" font-size="18" fill="#333" text-anchor="end" font-weight="normal" textLength="21.7" lengthAdjust="spacingAndGlyphs" >25</text>
<line x1="141" y1="155.35" x2="152" y2="155.35" stroke="#888" stroke-width="1"/>
<text x="131.2" y="161.55" font-size="18" fill="#333" text-anchor="end" font-weight="normal" textLength="21.7" lengthAdjust="spacingAndGlyphs" >30</text>
<line x1="141" y1="69.17" x2="152" y2="69.17" stroke="#888" stroke-width="1"/>
<text x="131.2" y="75.37" font-size="18" fill="#333" text-anchor="end" font-weight="normal" textLength="21.7" lengthAdjust="spacingAndGlyphs" >35</text>
<line x1="153.4" y1="674" x2="153.4" y2="684" stroke="#acacac" stroke-width="1.2"/>
<text x="153.4" y="707" font-size="18" fill="#1a1a1a" text-anchor="middle" font-weight="normal" textLength="22" lengthAdjust="spacingAndGlyphs" stroke="#1a1a1a" stroke-width="0.45">0h</text>
<line x1="247.03" y1="674" x2="247.03" y2="684" stroke="#acacac" stroke-width="1.2"/>
<text x="247.03" y="707" font-size="18" fill="#1a1a1a" text-anchor="middle" font-weight="normal" textLength="22" lengthAdjust="spacingAndGlyphs" stroke="#1a1a1a" stroke-width="0.45">1h</text>
<line x1="340.66" y1="674" x2="340.66" y2="684" stroke="#acacac" stroke-width="1.2"/>
<text x="340.66" y="707" font-size="18" fill="#1a1a1a" text-anchor="middle" font-weight="normal" textLength="22" lengthAdjust="spacingAndGlyphs" stroke="#1a1a1a" stroke-width="0.45">2h</text>
<line x1="434.29" y1="674" x2="434.29" y2="684" stroke="#acacac" stroke-width="1.2"/>
<text x="434.29" y="707" font-size="18" fill="#1a1a1a" text-anchor="middle" font-weight="normal" textLength="22" lengthAdjust="spacingAndGlyphs" stroke="#1a1a1a" stroke-width="0.45">3h</text>
<line x1="527.92" y1="674" x2="527.92" y2="684" stroke="#acacac" stroke-width="1.2"/>
<text x="527.92" y="707" font-size="18" fill="#1a1a1a" text-anchor="middle" font-weight="normal" textLength="22" lengthAdjust="spacingAndGlyphs" stroke="#1a1a1a" stroke-width="0.45">4h</text>
<line x1="621.55" y1="674" x2="621.55" y2="684" stroke="#acacac" stroke-width="1.2"/>
<text x="621.55" y="707" font-size="18" fill="#1a1a1a" text-anchor="middle" font-weight="normal" textLength="22" lengthAdjust="spacingAndGlyphs" stroke="#1a1a1a" stroke-width="0.45">5h</text>
<line x1="715.17" y1="674" x2="715.17" y2="684" stroke="#acacac" stroke-width="1.2"/>
<text x="715.17" y="707" font-size="18" fill="#1a1a1a" text-anchor="middle" font-weight="normal" textLength="22" lengthAdjust="spacingAndGlyphs" stroke="#1a1a1a" stroke-width="0.45">6h</text>
<line x1="808.8" y1="674" x2="808.8" y2="684" stroke="#acacac" stroke-width="1.2"/>
<text x="808.8" y="707" font-size="18" fill="#1a1a1a" text-anchor="middle" font-weight="normal" textLength="22" lengthAdjust="spacingAndGlyphs" stroke="#1a1a1a" stroke-width="0.45">7h</text>
<line x1="902.43" y1="674" x2="902.43" y2="684" stroke="#acacac" stroke-width="1.2"/>
<text x="902.43" y="707" font-size="18" fill="#1a1a1a" text-anchor="middle" font-weight="normal" textLength="22" lengthAdjust="spacingAndGlyphs" stroke="#1a1a1a" stroke-width="0.45">8h</text>
<line x1="996.06" y1="674" x2="996.06" y2="684" stroke="#acacac" stroke-width="1.2"/>
<text x="996.06" y="707" font-size="18" fill="#1a1a1a" text-anchor="middle" font-weight="normal" textLength="22" lengthAdjust="spacingAndGlyphs" stroke="#1a1a1a" stroke-width="0.45">9h</text>
<line x1="1089.69" y1="674" x2="1089.69" y2="684" stroke="#acacac" stroke-width="1.2"/>
<text x="1089.69" y="707" font-size="18" fill="#1a1a1a" text-anchor="middle" font-weight="normal" textLength="33" lengthAdjust="spacingAndGlyphs" stroke="#1a1a1a" stroke-width="0.45">10h</text>
<line x1="1183.32" y1="674" x2="1183.32" y2="684" stroke="#acacac" stroke-width="1.2"/>
<text x="1183.32" y="707" font-size="18" fill="#1a1a1a" text-anchor="middle" font-weight="normal" textLength="33" lengthAdjust="spacingAndGlyphs" stroke="#1a1a1a" stroke-width="0.45">11h</text>
<line x1="1276.95" y1="674" x2="1276.95" y2="684" stroke="#acacac" stroke-width="1.2"/>
<text x="1276.95" y="707" font-size="18" fill="#1a1a1a" text-anchor="middle" font-weight="normal" textLength="33" lengthAdjust="spacingAndGlyphs" stroke="#1a1a1a" stroke-width="0.45">12h</text>
<line x1="1370.58" y1="674" x2="1370.58" y2="684" stroke="#acacac" stroke-width="1.2"/>
<text x="1370.58" y="707" font-size="18" fill="#1a1a1a" text-anchor="middle" font-weight="normal" textLength="33" lengthAdjust="spacingAndGlyphs" stroke="#1a1a1a" stroke-width="0.45">13h</text>
<line x1="1464.21" y1="674" x2="1464.21" y2="684" stroke="#acacac" stroke-width="1.2"/>
<text x="1464.21" y="707" font-size="18" fill="#1a1a1a" text-anchor="middle" font-weight="normal" textLength="33" lengthAdjust="spacingAndGlyphs" stroke="#1a1a1a" stroke-width="0.45">14h</text>
<line x1="1557.84" y1="674" x2="1557.84" y2="684" stroke="#acacac" stroke-width="1.2"/>
<text x="1557.84" y="707" font-size="18" fill="#1a1a1a" text-anchor="middle" font-weight="normal" textLength="33" lengthAdjust="spacingAndGlyphs" stroke="#1a1a1a" stroke-width="0.45">15h</text>
<line x1="1651.47" y1="674" x2="1651.47" y2="684" stroke="#acacac" stroke-width="1.2"/>
<text x="1651.47" y="707" font-size="18" fill="#1a1a1a" text-anchor="middle" font-weight="normal" textLength="33" lengthAdjust="spacingAndGlyphs" stroke="#1a1a1a" stroke-width="0.45">16h</text>
<line x1="1745.1" y1="674" x2="1745.1" y2="684" stroke="#acacac" stroke-width="1.2"/>
<text x="1745.1" y="707" font-size="18" fill="#1a1a1a" text-anchor="middle" font-weight="normal" textLength="33" lengthAdjust="spacingAndGlyphs" stroke="#1a1a1a" stroke-width="0.45">17h</text>
<line x1="1838.72" y1="674" x2="1838.72" y2="684" stroke="#acacac" stroke-width="1.2"/>
<text x="1838.72" y="707" font-size="18" fill="#1a1a1a" text-anchor="middle" font-weight="normal" textLength="33" lengthAdjust="spacingAndGlyphs" stroke="#1a1a1a" stroke-width="0.45">18h</text>
<line x1="1932.35" y1="674" x2="1932.35" y2="684" stroke="#acacac" stroke-width="1.2"/>
<text x="1932.35" y="707" font-size="18" fill="#1a1a1a" text-anchor="middle" font-weight="normal" textLength="33" lengthAdjust="spacingAndGlyphs" stroke="#1a1a1a" stroke-width="0.45">19h</text>
<line x1="2025.98" y1="674" x2="2025.98" y2="684" stroke="#acacac" stroke-width="1.2"/>
<text x="2025.98" y="707" font-size="18" fill="#1a1a1a" text-anchor="middle" font-weight="normal" textLength="33" lengthAdjust="spacingAndGlyphs" stroke="#1a1a1a" stroke-width="0.45">20h</text>
<line x1="2119.61" y1="674" x2="2119.61" y2="684" stroke="#acacac" stroke-width="1.2"/>
<text x="2119.61" y="707" font-size="18" fill="#1a1a1a" text-anchor="middle" font-weight="normal" textLength="33" lengthAdjust="spacingAndGlyphs" stroke="#1a1a1a" stroke-width="0.45">21h</text>
<line x1="2213.24" y1="674" x2="2213.24" y2="684" stroke="#acacac" stroke-width="1.2"/>
<text x="2213.24" y="707" font-size="18" fill="#1a1a1a" text-anchor="middle" font-weight="normal" textLength="33" lengthAdjust="spacingAndGlyphs" stroke="#1a1a1a" stroke-width="0.45">22h</text>
<line x1="2306.87" y1="674" x2="2306.87" y2="684" stroke="#acacac" stroke-width="1.2"/>
<text x="2306.87" y="707" font-size="18" fill="#1a1a1a" text-anchor="middle" font-weight="normal" textLength="33" lengthAdjust="spacingAndGlyphs" stroke="#1a1a1a" stroke-width="0.45">23h</text>
<line x1="2400.5" y1="674" x2="2400.5" y2="684" stroke="#acacac" stroke-width="1.2"/>
<text x="2400.5" y="707" font-size="18" fill="#1a1a1a" text-anchor="middle" font-weight="normal" textLength="22" lengthAdjust="spacingAndGlyphs" stroke="#1a1a1a" stroke-width="0.45">0h</text>
<text x="0" y="0" font-size="21" fill="#333" text-anchor="middle" font-weight="normal" transform="translate(85,370) rotate(-90)">kW</text>
<rect x="2416.7" y="819.2" width="12" height="509.2" fill="url(#shR)"/>
<rect x="159.0" y="1320.4" width="2257.7" height="9" fill="url(#shB)"/>
<rect x="2416.7" y="1320.4" width="12" height="9" fill="url(#shC)"/>
<rect x="155.0" y="815.2" width="2261.7" height="505.2" fill="#efefef"/>
<rect x="478.1" y="1176.06" width="323.1" height="72.17" fill="#fff"/>
<rect x="1124.3" y="1176.06" width="323.1" height="72.17" fill="#fff"/>
<rect x="1770.5" y="1176.06" width="323.1" height="72.17" fill="#fff"/>
<line x1="478.1" y1="1176.06" x2="478.1" y2="1248.23" stroke="#c8c8c8" stroke-width="1"/>
<line x1="801.2" y1="1176.06" x2="801.2" y2="1248.23" stroke="#c8c8c8" stroke-width="1"/>
<line x1="1124.3" y1="1176.06" x2="1124.3" y2="1248.23" stroke="#c8c8c8" stroke-width="1"/>
<line x1="1447.4" y1="1176.06" x2="1447.4" y2="1248.23" stroke="#c8c8c8" stroke-width="1"/>
<line x1="1770.5" y1="1176.06" x2="1770.5" y2="1248.23" stroke="#c8c8c8" stroke-width="1"/>
<line x1="2093.6" y1="1176.06" x2="2093.6" y2="1248.23" stroke="#c8c8c8" stroke-width="1"/>
<rect x="478.1" y="1031.71" width="323.1" height="72.17" fill="#fff"/>
<rect x="1124.3" y="1031.71" width="323.1" height="72.17" fill="#fff"/>
<rect x="1770.5" y="1031.71" width="323.1" height="72.17" fill="#fff"/>
<line x1="478.1" y1="1031.71" x2="478.1" y2="1103.89" stroke="#c8c8c8" stroke-width="1"/>
<line x1="801.2" y1="1031.71" x2="801.2" y2="1103.89" stroke="#c8c8c8" stroke-width="1"/>
<line x1="1124.3" y1="1031.71" x2="1124.3" y2="1103.89" stroke="#c8c8c8" stroke-width="1"/>
<line x1="1447.4" y1="1031.71" x2="1447.4" y2="1103.89" stroke="#c8c8c8" stroke-width="1"/>
<line x1="1770.5" y1="1031.71" x2="1770.5" y2="1103.89" stroke="#c8c8c8" stroke-width="1"/>
<line x1="2093.6" y1="1031.71" x2="2093.6" y2="1103.89" stroke="#c8c8c8" stroke-width="1"/>
<rect x="478.1" y="887.37" width="323.1" height="72.17" fill="#fff"/>
<rect x="1124.3" y="887.37" width="323.1" height="72.17" fill="#fff"/>
<rect x="1770.5" y="887.37" width="323.1" height="72.17" fill="#fff"/>
<line x1="478.1" y1="887.37" x2="478.1" y2="959.54" stroke="#c8c8c8" stroke-width="1"/>
<line x1="801.2" y1="887.37" x2="801.2" y2="959.54" stroke="#c8c8c8" stroke-width="1"/>
<line x1="1124.3" y1="887.37" x2="1124.3" y2="959.54" stroke="#c8c8c8" stroke-width="1"/>
<line x1="1447.4" y1="887.37" x2="1447.4" y2="959.54" stroke="#c8c8c8" stroke-width="1"/>
<line x1="1770.5" y1="887.37" x2="1770.5" y2="959.54" stroke="#c8c8c8" stroke-width="1"/>
<line x1="2093.6" y1="887.37" x2="2093.6" y2="959.54" stroke="#c8c8c8" stroke-width="1"/>
<line x1="155.0" y1="1320.4" x2="2416.7" y2="1320.4" stroke="#c8c8c8" stroke-width="1"/>
<line x1="155.0" y1="1248.23" x2="2416.7" y2="1248.23" stroke="#c8c8c8" stroke-width="1"/>
<line x1="155.0" y1="1176.06" x2="2416.7" y2="1176.06" stroke="#c8c8c8" stroke-width="1"/>
<line x1="155.0" y1="1103.89" x2="2416.7" y2="1103.89" stroke="#c8c8c8" stroke-width="1"/>
<line x1="155.0" y1="1031.71" x2="2416.7" y2="1031.71" stroke="#c8c8c8" stroke-width="1"/>
<line x1="155.0" y1="959.54" x2="2416.7" y2="959.54" stroke="#c8c8c8" stroke-width="1"/>
<line x1="155.0" y1="887.37" x2="2416.7" y2="887.37" stroke="#c8c8c8" stroke-width="1"/>
<line x1="155.0" y1="815.2" x2="2416.7" y2="815.2" stroke="#c8c8c8" stroke-width="1"/>
<g clip-path="url(#clip2)">
<path d="M154.44,1320.4L154.44,1291.53L155.56,1291.53L155.56,1291.53L156.68,1291.53L156.68,1291.53L157.8,1291.53L157.8,1305.97L158.93,1305.97L158.93,1291.53L160.05,1291.53L160.05,1291.53L161.17,1291.53L161.17,1305.97L162.29,1305.97L162.29,1291.53L163.41,1291.53L163.41,1305.97L164.54,1305.97L164.54,1291.53L165.66,1291.53L165.66,1305.97L166.78,1305.97L166.78,1305.97L167.9,1305.97L167.9,1291.53L169.02,1291.53L169.02,1291.53L170.15,1291.53L170.15,1291.53L171.27,1291.53L171.27,1291.53L172.39,1291.53L172.39,1291.53L173.51,1291.53L173.51,1291.53L174.63,1291.53L174.63,1291.53L175.75,1291.53L175.75,1291.53L176.88,1291.53L176.88,1291.53L178,1291.53L178,1305.97L179.12,1305.97L179.12,1291.53L180.24,1291.53L180.24,1291.53L181.36,1291.53L181.36,1291.53L182.49,1291.53L182.49,1291.53L183.61,1291.53L183.61,1291.53L184.73,1291.53L184.73,1291.53L185.85,1291.53L185.85,1291.53L186.97,1291.53L186.97,1291.53L188.1,1291.53L188.1,1291.53L189.22,1291.53L189.22,1291.53L190.34,1291.53L190.34,1291.53L191.46,1291.53L191.46,1305.97L192.58,1305.97L192.58,1305.97L193.7,1305.97L193.7,1291.53L194.83,1291.53L194.83,1291.53L195.95,1291.53L195.95,1291.53L197.07,1291.53L197.07,1291.53L198.19,1291.53L198.19,1291.53L199.31,1291.53L199.31,1291.53L200.44,1291.53L200.44,1291.53L201.56,1291.53L201.56,1291.53L202.68,1291.53L202.68,1291.53L203.8,1291.53L203.8,1291.53L204.92,1291.53L204.92,1291.53L206.05,1291.53L206.05,1291.53L207.17,1291.53L207.17,1291.53L208.29,1291.53L208.29,1291.53L209.41,1291.53L209.41,1291.53L210.53,1291.53L210.53,1291.53L211.65,1291.53L211.65,1291.53L212.78,1291.53L212.78,1291.53L213.9,1291.53L213.9,1291.53L215.02,1291.53L215.02,1291.53L216.14,1291.53L216.14,1291.53L217.26,1291.53L217.26,1305.97L218.39,1305.97L218.39,1291.53L219.51,1291.53L219.51,1291.53L220.63,1291.53L220.63,1291.53L221.75,1291.53L221.75,1291.53L222.87,1291.53L222.87,1291.53L224,1291.53L224,1291.53L225.12,1291.53L225.12,1291.53L226.24,1291.53L226.24,1291.53L227.36,1291.53L227.36,1291.53L228.48,1291.53L228.48,1291.53L229.6,1291.53L229.6,1291.53L230.73,1291.53L230.73,1291.53L231.85,1291.53L231.85,1291.53L232.97,1291.53L232.97,1305.97L234.09,1305.97L234.09,1291.53L235.21,1291.53L235.21,1320.4Z" fill="url(#lgp)"/>
<rect x="154.44" y="1305.97" width="80.77" height="14.43" fill="#a0eec2"/>
<path d="M235.21,1320.4L235.21,1291.53L236.34,1291.53L236.34,1291.53L237.46,1291.53L237.46,1291.53L238.58,1291.53L238.58,1291.53L239.7,1291.53L239.7,1291.53L240.82,1291.53L240.82,1291.53L241.95,1291.53L241.95,1305.97L243.07,1305.97L243.07,1291.53L244.19,1291.53L244.19,1291.53L245.31,1291.53L245.31,1291.53L246.43,1291.53L246.43,1291.53L247.55,1291.53L247.55,1291.53L248.68,1291.53L248.68,1291.53L249.8,1291.53L249.8,1291.53L250.92,1291.53L250.92,1291.53L252.04,1291.53L252.04,1305.97L253.16,1305.97L253.16,1262.66L254.29,1262.66L254.29,1132.75L255.41,1132.75L255.41,1219.36L256.53,1219.36L256.53,1262.66L257.65,1262.66L257.65,1190.49L258.77,1190.49L258.77,1219.36L259.9,1219.36L259.9,1233.79L261.02,1233.79L261.02,1262.66L262.14,1262.66L262.14,1204.93L263.26,1204.93L263.26,1233.79L264.38,1233.79L264.38,1248.23L265.5,1248.23L265.5,1219.36L266.63,1219.36L266.63,1219.36L267.75,1219.36L267.75,1248.23L268.87,1248.23L268.87,1219.36L269.99,1219.36L269.99,1233.79L271.11,1233.79L271.11,1262.66L272.24,1262.66L272.24,1219.36L273.36,1219.36L273.36,1248.23L274.48,1248.23L274.48,1219.36L275.6,1219.36L275.6,1233.79L276.72,1233.79L276.72,1219.36L277.85,1219.36L277.85,1262.66L278.97,1262.66L278.97,1219.36L280.09,1219.36L280.09,1248.23L281.21,1248.23L281.21,1233.79L282.33,1233.79L282.33,1219.36L283.45,1219.36L283.45,1277.1L284.58,1277.1L284.58,1219.36L285.7,1219.36L285.7,1233.79L286.82,1233.79L286.82,1248.23L287.94,1248.23L287.94,1219.36L289.06,1219.36L289.06,1219.36L290.19,1219.36L290.19,1248.23L291.31,1248.23L291.31,1219.36L292.43,1219.36L292.43,1204.93L293.55,1204.93L293.55,1233.79L294.67,1233.79L294.67,1219.36L295.8,1219.36L295.8,1262.66L296.92,1262.66L296.92,1233.79L298.04,1233.79L298.04,1017.28L299.16,1017.28L299.16,988.41L300.28,988.41L300.28,988.41L301.4,988.41L301.4,1118.32L302.53,1118.32L302.53,1176.06L303.65,1176.06L303.65,1204.93L304.77,1204.93L304.77,1176.06L305.89,1176.06L305.89,1176.06L307.01,1176.06L307.01,1204.93L308.14,1204.93L308.14,1176.06L309.26,1176.06L309.26,1176.06L310.38,1176.06L310.38,1190.49L311.5,1190.49L311.5,1204.93L312.62,1204.93L312.62,1262.66L313.75,1262.66L313.75,1233.79L314.87,1233.79L314.87,1248.23L315.99,1248.23L315.99,1219.36L317.11,1219.36L317.11,1248.23L318.23,1248.23L318.23,1248.23L319.35,1248.23L319.35,1248.23L320.48,1248.23L320.48,1262.66L321.6,1262.66L321.6,1219.36L322.72,1219.36L322.72,1219.36L323.84,1219.36L323.84,1190.49L324.96,1190.49L324.96,1147.19L326.09,1147.19L326.09,1147.19L327.21,1147.19L327.21,1132.75L328.33,1132.75L328.33,1132.75L329.45,1132.75L329.45,1233.79L330.57,1233.79L330.57,1233.79L331.7,1233.79L331.7,1233.79L332.82,1233.79L332.82,1233.79L333.94,1233.79L333.94,1233.79L335.06,1233.79L335.06,1233.79L336.18,1233.79L336.18,1233.79L337.3,1233.79L337.3,1233.79L338.43,1233.79L338.43,1277.1L339.55,1277.1L339.55,1291.53L340.67,1291.53L340.67,1305.97L341.79,1305.97L341.79,1291.53L342.91,1291.53L342.91,1305.97L344.04,1305.97L344.04,1291.53L345.16,1291.53L345.16,1305.97L346.28,1305.97L346.28,1291.53L347.4,1291.53L347.4,1291.53L348.52,1291.53L348.52,1305.97L349.65,1305.97L349.65,1291.53L350.77,1291.53L350.77,1305.97L351.89,1305.97L351.89,1291.53L353.01,1291.53L353.01,1305.97L354.13,1305.97L354.13,1291.53L355.25,1291.53L355.25,1291.53L356.38,1291.53L356.38,1305.97L357.5,1305.97L357.5,1291.53L358.62,1291.53L358.62,1305.97L359.74,1305.97L359.74,1291.53L360.86,1291.53L360.86,1305.97L361.99,1305.97L361.99,1291.53L363.11,1291.53L363.11,1291.53L364.23,1291.53L364.23,1305.97L365.35,1305.97L365.35,1291.53L366.47,1291.53L366.47,1305.97L367.6,1305.97L367.6,1291.53L368.72,1291.53L368.72,1305.97L369.84,1305.97L369.84,1204.93L370.96,1204.93L370.96,1204.93L372.08,1204.93L372.08,1233.79L373.2,1233.79L373.2,1233.79L374.33,1233.79L374.33,1233.79L375.45,1233.79L375.45,1233.79L376.57,1233.79L376.57,1219.36L377.69,1219.36L377.69,1219.36L378.81,1219.36L378.81,1233.79L379.94,1233.79L379.94,1233.79L381.06,1233.79L381.06,1233.79L382.18,1233.79L382.18,1233.79L383.3,1233.79L383.3,1320.4Z" fill="url(#dgp)"/>
<path d="M383.3,1320.4L383.3,1233.79L384.42,1233.79L384.42,1277.1L385.55,1277.1L385.55,1291.53L386.67,1291.53L386.67,1291.53L387.79,1291.53L387.79,1291.53L388.91,1291.53L388.91,1291.53L390.03,1291.53L390.03,1291.53L391.15,1291.53L391.15,1291.53L392.28,1291.53L392.28,1291.53L393.4,1291.53L393.4,1291.53L394.52,1291.53L394.52,1291.53L395.64,1291.53L395.64,1291.53L396.76,1291.53L396.76,1291.53L397.89,1291.53L397.89,1291.53L399.01,1291.53L399.01,1291.53L400.13,1291.53L400.13,1291.53L401.25,1291.53L401.25,1291.53L402.37,1291.53L402.37,1291.53L403.5,1291.53L403.5,1291.53L404.62,1291.53L404.62,1291.53L405.74,1291.53L405.74,1291.53L406.86,1291.53L406.86,1291.53L407.98,1291.53L407.98,1291.53L409.1,1291.53L409.1,1305.97L410.23,1305.97L410.23,1291.53L411.35,1291.53L411.35,1291.53L412.47,1291.53L412.47,1291.53L413.59,1291.53L413.59,1291.53L414.71,1291.53L414.71,1291.53L415.84,1291.53L415.84,1291.53L416.96,1291.53L416.96,1291.53L418.08,1291.53L418.08,1291.53L419.2,1291.53L419.2,1291.53L420.32,1291.53L420.32,1291.53L421.45,1291.53L421.45,1291.53L422.57,1291.53L422.57,1291.53L423.69,1291.53L423.69,1291.53L424.81,1291.53L424.81,1291.53L425.93,1291.53L425.93,1291.53L427.05,1291.53L427.05,1291.53L428.18,1291.53L428.18,1291.53L429.3,1291.53L429.3,1291.53L430.42,1291.53L430.42,1291.53L431.54,1291.53L431.54,1291.53L432.66,1291.53L432.66,1291.53L433.79,1291.53L433.79,1291.53L434.91,1291.53L434.91,1291.53L436.03,1291.53L436.03,1291.53L437.15,1291.53L437.15,1291.53L438.27,1291.53L438.27,1305.97L439.4,1305.97L439.4,1291.53L440.52,1291.53L440.52,1291.53L441.64,1291.53L441.64,1305.97L442.76,1305.97L442.76,1291.53L443.88,1291.53L443.88,1291.53L445,1291.53L445,1291.53L446.13,1291.53L446.13,1291.53L447.25,1291.53L447.25,1291.53L448.37,1291.53L448.37,1291.53L449.49,1291.53L449.49,1291.53L450.61,1291.53L450.61,1291.53L451.74,1291.53L451.74,1291.53L452.86,1291.53L452.86,1291.53L453.98,1291.53L453.98,1291.53L455.1,1291.53L455.1,1291.53L456.22,1291.53L456.22,1291.53L457.35,1291.53L457.35,1291.53L458.47,1291.53L458.47,1291.53L459.59,1291.53L459.59,1291.53L460.71,1291.53L460.71,1291.53L461.83,1291.53L461.83,1291.53L462.95,1291.53L462.95,1291.53L464.08,1291.53L464.08,1291.53L465.2,1291.53L465.2,1291.53L466.32,1291.53L466.32,1291.53L467.44,1291.53L467.44,1291.53L468.56,1291.53L468.56,1291.53L469.69,1291.53L469.69,1291.53L470.81,1291.53L470.81,1291.53L471.93,1291.53L471.93,1291.53L473.05,1291.53L473.05,1291.53L474.17,1291.53L474.17,1291.53L475.3,1291.53L475.3,1291.53L476.42,1291.53L476.42,1291.53L477.54,1291.53L477.54,1291.53L478.66,1291.53L478.66,1291.53L479.78,1291.53L479.78,1291.53L480.9,1291.53L480.9,1291.53L482.03,1291.53L482.03,1291.53L483.15,1291.53L483.15,1291.53L484.27,1291.53L484.27,1305.97L485.39,1305.97L485.39,1291.53L486.51,1291.53L486.51,1305.97L487.64,1305.97L487.64,1291.53L488.76,1291.53L488.76,1291.53L489.88,1291.53L489.88,1291.53L491,1291.53L491,1291.53L492.12,1291.53L492.12,1291.53L493.25,1291.53L493.25,1291.53L494.37,1291.53L494.37,1291.53L495.49,1291.53L495.49,1291.53L496.61,1291.53L496.61,1291.53L497.73,1291.53L497.73,1291.53L498.85,1291.53L498.85,1291.53L499.98,1291.53L499.98,1291.53L501.1,1291.53L501.1,1291.53L502.22,1291.53L502.22,1291.53L503.34,1291.53L503.34,1291.53L504.46,1291.53L504.46,1291.53L505.59,1291.53L505.59,1291.53L506.71,1291.53L506.71,1291.53L507.83,1291.53L507.83,1291.53L508.95,1291.53L508.95,1291.53L510.07,1291.53L510.07,1291.53L511.2,1291.53L511.2,1291.53L512.32,1291.53L512.32,1305.97L513.44,1305.97L513.44,1277.1L514.56,1277.1L514.56,1291.53L515.68,1291.53L515.68,1305.97L516.8,1305.97L516.8,1291.53L517.93,1291.53L517.93,1291.53L519.05,1291.53L519.05,1291.53L520.17,1291.53L520.17,1305.97L521.29,1305.97L521.29,1291.53L522.41,1291.53L522.41,1291.53L523.54,1291.53L523.54,1291.53L524.66,1291.53L524.66,1291.53L525.78,1291.53L525.78,1291.53L526.9,1291.53L526.9,1305.97L528.02,1305.97L528.02,1291.53L529.15,1291.53L529.15,1291.53L530.27,1291.53L530.27,1291.53L531.39,1291.53L531.39,1291.53L532.51,1291.53L532.51,1291.53L533.63,1291.53L533.63,1291.53L534.75,1291.53L534.75,1291.53L535.88,1291.53L535.88,1291.53L537,1291.53L537,1291.53L538.12,1291.53L538.12,1291.53L539.24,1291.53L539.24,1291.53L540.36,1291.53L540.36,1305.97L541.49,1305.97L541.49,1305.97L542.61,1305.97L542.61,1291.53L543.73,1291.53L543.73,1291.53L544.85,1291.53L544.85,1305.97L545.97,1305.97L545.97,1291.53L547.1,1291.53L547.1,1291.53L548.22,1291.53L548.22,1291.53L549.34,1291.53L549.34,1305.97L550.46,1305.97L550.46,1291.53L551.58,1291.53L551.58,1305.97L552.7,1305.97L552.7,1291.53L553.83,1291.53L553.83,1291.53L554.95,1291.53L554.95,1291.53L556.07,1291.53L556.07,1291.53L557.19,1291.53L557.19,1291.53L558.31,1291.53L558.31,1291.53L559.44,1291.53L559.44,1291.53L560.56,1291.53L560.56,1291.53L561.68,1291.53L561.68,1291.53L562.8,1291.53L562.8,1291.53L563.92,1291.53L563.92,1291.53L565.05,1291.53L565.05,1305.97L566.17,1305.97L566.17,1291.53L567.29,1291.53L567.29,1291.53L568.41,1291.53L568.41,1291.53L569.53,1291.53L569.53,1291.53L570.65,1291.53L570.65,1291.53L571.78,1291.53L571.78,1291.53L572.9,1291.53L572.9,1291.53L574.02,1291.53L574.02,1291.53L575.14,1291.53L575.14,1305.97L576.26,1305.97L576.26,1291.53L577.39,1291.53L577.39,1305.97L578.51,1305.97L578.51,1291.53L579.63,1291.53L579.63,1291.53L580.75,1291.53L580.75,1291.53L581.87,1291.53L581.87,1291.53L583,1291.53L583,1291.53L584.12,1291.53L584.12,1291.53L585.24,1291.53L585.24,1291.53L586.36,1291.53L586.36,1291.53L587.48,1291.53L587.48,1291.53L588.6,1291.53L588.6,1291.53L589.73,1291.53L589.73,1291.53L590.85,1291.53L590.85,1291.53L591.97,1291.53L591.97,1291.53L593.09,1291.53L593.09,1291.53L594.21,1291.53L594.21,1291.53L595.34,1291.53L595.34,1291.53L596.46,1291.53L596.46,1291.53L597.58,1291.53L597.58,1291.53L598.7,1291.53L598.7,1291.53L599.82,1291.53L599.82,1291.53L600.95,1291.53L600.95,1305.97L602.07,1305.97L602.07,1291.53L603.19,1291.53L603.19,1305.97L604.31,1305.97L604.31,1291.53L605.43,1291.53L605.43,1291.53L606.55,1291.53L606.55,1291.53L607.68,1291.53L607.68,1305.97L608.8,1305.97L608.8,1291.53L609.92,1291.53L609.92,1291.53L611.04,1291.53L611.04,1291.53L612.16,1291.53L612.16,1291.53L613.29,1291.53L613.29,1291.53L614.41,1291.53L614.41,1291.53L615.53,1291.53L615.53,1291.53L616.65,1291.53L616.65,1291.53L617.77,1291.53L617.77,1291.53L618.9,1291.53L618.9,1291.53L620.02,1291.53L620.02,1291.53L621.14,1291.53L621.14,1291.53L622.26,1291.53L622.26,1291.53L623.38,1291.53L623.38,1291.53L624.5,1291.53L624.5,1291.53L625.63,1291.53L625.63,1291.53L626.75,1291.53L626.75,1291.53L627.87,1291.53L627.87,1305.97L628.99,1305.97L628.99,1291.53L630.11,1291.53L630.11,1291.53L631.24,1291.53L631.24,1291.53L632.36,1291.53L632.36,1291.53L633.48,1291.53L633.48,1291.53L634.6,1291.53L634.6,1305.97L635.72,1305.97L635.72,1291.53L636.85,1291.53L636.85,1305.97L637.97,1305.97L637.97,1291.53L639.09,1291.53L639.09,1305.97L640.21,1305.97L640.21,1305.97L641.33,1305.97L641.33,1291.53L642.45,1291.53L642.45,1291.53L643.58,1291.53L643.58,1291.53L644.7,1291.53L644.7,1291.53L645.82,1291.53L645.82,1291.53L646.94,1291.53L646.94,1291.53L648.06,1291.53L648.06,1291.53L649.19,1291.53L649.19,1291.53L650.31,1291.53L650.31,1291.53L651.43,1291.53L651.43,1291.53L652.55,1291.53L652.55,1291.53L653.67,1291.53L653.67,1291.53L654.8,1291.53L654.8,1291.53L655.92,1291.53L655.92,1291.53L657.04,1291.53L657.04,1305.97L658.16,1305.97L658.16,1291.53L659.28,1291.53L659.28,1291.53L660.4,1291.53L660.4,1291.53L661.53,1291.53L661.53,1291.53L662.65,1291.53L662.65,1291.53L663.77,1291.53L663.77,1291.53L664.89,1291.53L664.89,1291.53L666.01,1291.53L666.01,1291.53L667.14,1291.53L667.14,1291.53L668.26,1291.53L668.26,1291.53L669.38,1291.53L669.38,1291.53L670.5,1291.53L670.5,1291.53L671.62,1291.53L671.62,1291.53L672.75,1291.53L672.75,1291.53L673.87,1291.53L673.87,1291.53L674.99,1291.53L674.99,1291.53L676.11,1291.53L676.11,1305.97L677.23,1305.97L677.23,1291.53L678.35,1291.53L678.35,1291.53L679.48,1291.53L679.48,1291.53L680.6,1291.53L680.6,1291.53L681.72,1291.53L681.72,1291.53L682.84,1291.53L682.84,1291.53L683.96,1291.53L683.96,1291.53L685.09,1291.53L685.09,1291.53L686.21,1291.53L686.21,1291.53L687.33,1291.53L687.33,1305.97L688.45,1305.97L688.45,1291.53L689.57,1291.53L689.57,1291.53L690.7,1291.53L690.7,1291.53L691.82,1291.53L691.82,1291.53L692.94,1291.53L692.94,1291.53L694.06,1291.53L694.06,1305.97L695.18,1305.97L695.18,1291.53L696.3,1291.53L696.3,1291.53L697.43,1291.53L697.43,1305.97L698.55,1305.97L698.55,1291.53L699.67,1291.53L699.67,1291.53L700.79,1291.53L700.79,1291.53L701.91,1291.53L701.91,1291.53L703.04,1291.53L703.04,1291.53L704.16,1291.53L704.16,1291.53L705.28,1291.53L705.28,1291.53L706.4,1291.53L706.4,1291.53L707.52,1291.53L707.52,1291.53L708.65,1291.53L708.65,1291.53L709.77,1291.53L709.77,1291.53L710.89,1291.53L710.89,1291.53L712.01,1291.53L712.01,1305.97L713.13,1305.97L713.13,1291.53L714.25,1291.53L714.25,1291.53L715.38,1291.53L715.38,1291.53L716.5,1291.53L716.5,1291.53L717.62,1291.53L717.62,1291.53L718.74,1291.53L718.74,1305.97L719.86,1305.97L719.86,1305.97L720.99,1305.97L720.99,1291.53L722.11,1291.53L722.11,1291.53L723.23,1291.53L723.23,1291.53L724.35,1291.53L724.35,1291.53L725.47,1291.53L725.47,1291.53L726.6,1291.53L726.6,1291.53L727.72,1291.53L727.72,1291.53L728.84,1291.53L728.84,1291.53L729.96,1291.53L729.96,1291.53L731.08,1291.53L731.08,1291.53L732.2,1291.53L732.2,1291.53L733.33,1291.53L733.33,1291.53L734.45,1291.53L734.45,1291.53L735.57,1291.53L735.57,1305.97L736.69,1305.97L736.69,1291.53L737.81,1291.53L737.81,1291.53L738.94,1291.53L738.94,1291.53L740.06,1291.53L740.06,1291.53L741.18,1291.53L741.18,1291.53L742.3,1291.53L742.3,1291.53L743.42,1291.53L743.42,1291.53L744.55,1291.53L744.55,1291.53L745.67,1291.53L745.67,1291.53L746.79,1291.53L746.79,1291.53L747.91,1291.53L747.91,1291.53L749.03,1291.53L749.03,1291.53L750.15,1291.53L750.15,1291.53L751.28,1291.53L751.28,1291.53L752.4,1291.53L752.4,1291.53L753.52,1291.53L753.52,1291.53L754.64,1291.53L754.64,1291.53L755.76,1291.53L755.76,1291.53L756.89,1291.53L756.89,1291.53L758.01,1291.53L758.01,1291.53L759.13,1291.53L759.13,1305.97L760.25,1305.97L760.25,1305.97L761.37,1305.97L761.37,1291.53L762.5,1291.53L762.5,1291.53L763.62,1291.53L763.62,1291.53L764.74,1291.53L764.74,1291.53L765.86,1291.53L765.86,1291.53L766.98,1291.53L766.98,1291.53L768.1,1291.53L768.1,1291.53L769.23,1291.53L769.23,1305.97L770.35,1305.97L770.35,1291.53L771.47,1291.53L771.47,1291.53L772.59,1291.53L772.59,1291.53L773.71,1291.53L773.71,1291.53L774.84,1291.53L774.84,1291.53L775.96,1291.53L775.96,1291.53L777.08,1291.53L777.08,1291.53L778.2,1291.53L778.2,1291.53L779.32,1291.53L779.32,1291.53L780.45,1291.53L780.45,1291.53L781.57,1291.53L781.57,1291.53L782.69,1291.53L782.69,1291.53L783.81,1291.53L783.81,1291.53L784.93,1291.53L784.93,1291.53L786.05,1291.53L786.05,1305.97L787.18,1305.97L787.18,1291.53L788.3,1291.53L788.3,1291.53L789.42,1291.53L789.42,1291.53L790.54,1291.53L790.54,1291.53L791.66,1291.53L791.66,1291.53L792.79,1291.53L792.79,1291.53L793.91,1291.53L793.91,1291.53L795.03,1291.53L795.03,1291.53L796.15,1291.53L796.15,1291.53L797.27,1291.53L797.27,1291.53L798.4,1291.53L798.4,1291.53L799.52,1291.53L799.52,1291.53L800.64,1291.53L800.64,1291.53L801.76,1291.53L801.76,1291.53L802.88,1291.53L802.88,1291.53L804,1291.53L804,1291.53L805.13,1291.53L805.13,1291.53L806.25,1291.53L806.25,1305.97L807.37,1305.97L807.37,1291.53L808.49,1291.53L808.49,1291.53L809.61,1291.53L809.61,1291.53L810.74,1291.53L810.74,1291.53L811.86,1291.53L811.86,1291.53L812.98,1291.53L812.98,1305.97L814.1,1305.97L814.1,1291.53L815.22,1291.53L815.22,1291.53L816.35,1291.53L816.35,1291.53L817.47,1291.53L817.47,1291.53L818.59,1291.53L818.59,1291.53L819.71,1291.53L819.71,1291.53L820.83,1291.53L820.83,1291.53L821.95,1291.53L821.95,1291.53L823.08,1291.53L823.08,1291.53L824.2,1291.53L824.2,1291.53L825.32,1291.53L825.32,1291.53L826.44,1291.53L826.44,1291.53L827.56,1291.53L827.56,1291.53L828.69,1291.53L828.69,1291.53L829.81,1291.53L829.81,1291.53L830.93,1291.53L830.93,1291.53L832.05,1291.53L832.05,1291.53L833.17,1291.53L833.17,1291.53L834.3,1291.53L834.3,1291.53L835.42,1291.53L835.42,1291.53L836.54,1291.53L836.54,1291.53L837.66,1291.53L837.66,1291.53L838.78,1291.53L838.78,1291.53L839.9,1291.53L839.9,1305.97L841.03,1305.97L841.03,1291.53L842.15,1291.53L842.15,1305.97L843.27,1305.97L843.27,1291.53L844.39,1291.53L844.39,1291.53L845.51,1291.53L845.51,1291.53L846.64,1291.53L846.64,1291.53L847.76,1291.53L847.76,1291.53L848.88,1291.53L848.88,1291.53L850,1291.53L850,1291.53L851.12,1291.53L851.12,1291.53L852.25,1291.53L852.25,1291.53L853.37,1291.53L853.37,1291.53L854.49,1291.53L854.49,1305.97L855.61,1305.97L855.61,1291.53L856.73,1291.53L856.73,1291.53L857.85,1291.53L857.85,1291.53L858.98,1291.53L858.98,1277.1L860.1,1277.1L860.1,1291.53L861.22,1291.53L861.22,1291.53L862.34,1291.53L862.34,1291.53L863.46,1291.53L863.46,1291.53L864.59,1291.53L864.59,1291.53L865.71,1291.53L865.71,1291.53L866.83,1291.53L866.83,1291.53L867.95,1291.53L867.95,1291.53L869.07,1291.53L869.07,1291.53L870.2,1291.53L870.2,1291.53L871.32,1291.53L871.32,1305.97L872.44,1305.97L872.44,1305.97L873.56,1305.97L873.56,1291.53L874.68,1291.53L874.68,1291.53L875.8,1291.53L875.8,1291.53L876.93,1291.53L876.93,1291.53L878.05,1291.53L878.05,1305.97L879.17,1305.97L879.17,1291.53L880.29,1291.53L880.29,1291.53L881.41,1291.53L881.41,1291.53L882.54,1291.53L882.54,1291.53L883.66,1291.53L883.66,1291.53L884.78,1291.53L884.78,1291.53L885.9,1291.53L885.9,1291.53L887.02,1291.53L887.02,1291.53L888.15,1291.53L888.15,1291.53L889.27,1291.53L889.27,1291.53L890.39,1291.53L890.39,1291.53L891.51,1291.53L891.51,1291.53L892.63,1291.53L892.63,1291.53L893.75,1291.53L893.75,1291.53L894.88,1291.53L894.88,1291.53L896,1291.53L896,1291.53L897.12,1291.53L897.12,1305.97L898.24,1305.97L898.24,1291.53L899.36,1291.53L899.36,1291.53L900.49,1291.53L900.49,1291.53L901.61,1291.53L901.61,1291.53L902.73,1291.53L902.73,1291.53L903.85,1291.53L903.85,1291.53L904.97,1291.53L904.97,1291.53L906.1,1291.53L906.1,1291.53L907.22,1291.53L907.22,1291.53L908.34,1291.53L908.34,1291.53L909.46,1291.53L909.46,1305.97L910.58,1305.97L910.58,1291.53L911.7,1291.53L911.7,1291.53L912.83,1291.53L912.83,1291.53L913.95,1291.53L913.95,1291.53L915.07,1291.53L915.07,1291.53L916.19,1291.53L916.19,1305.97L917.31,1305.97L917.31,1291.53L918.44,1291.53L918.44,1291.53L919.56,1291.53L919.56,1291.53L920.68,1291.53L920.68,1291.53L921.8,1291.53L921.8,1291.53L922.92,1291.53L922.92,1291.53L924.05,1291.53L924.05,1291.53L925.17,1291.53L925.17,1291.53L926.29,1291.53L926.29,1291.53L927.41,1291.53L927.41,1291.53L928.53,1291.53L928.53,1291.53L929.65,1291.53L929.65,1305.97L930.78,1305.97L930.78,1291.53L931.9,1291.53L931.9,1291.53L933.02,1291.53L933.02,1291.53L934.14,1291.53L934.14,1291.53L935.26,1291.53L935.26,1291.53L936.39,1291.53L936.39,1291.53L937.51,1291.53L937.51,1291.53L938.63,1291.53L938.63,1305.97L939.75,1305.97L939.75,1291.53L940.87,1291.53L940.87,1291.53L942,1291.53L942,1291.53L943.12,1291.53L943.12,1291.53L944.24,1291.53L944.24,1291.53L945.36,1291.53L945.36,1291.53L946.48,1291.53L946.48,1291.53L947.6,1291.53L947.6,1291.53L948.73,1291.53L948.73,1291.53L949.85,1291.53L949.85,1291.53L950.97,1291.53L950.97,1291.53L952.09,1291.53L952.09,1291.53L953.21,1291.53L953.21,1291.53L954.34,1291.53L954.34,1291.53L955.46,1291.53L955.46,1291.53L956.58,1291.53L956.58,1291.53L957.7,1291.53L957.7,1291.53L958.82,1291.53L958.82,1291.53L959.95,1291.53L959.95,1291.53L961.07,1291.53L961.07,1291.53L962.19,1291.53L962.19,1291.53L963.31,1291.53L963.31,1291.53L964.43,1291.53L964.43,1291.53L965.55,1291.53L965.55,1291.53L966.68,1291.53L966.68,1291.53L967.8,1291.53L967.8,1291.53L968.92,1291.53L968.92,1291.53L970.04,1291.53L970.04,1305.97L971.16,1305.97L971.16,1305.97L972.29,1305.97L972.29,1291.53L973.41,1291.53L973.41,1291.53L974.53,1291.53L974.53,1291.53L975.65,1291.53L975.65,1291.53L976.77,1291.53L976.77,1291.53L977.9,1291.53L977.9,1291.53L979.02,1291.53L979.02,1291.53L980.14,1291.53L980.14,1291.53L981.26,1291.53L981.26,1291.53L982.38,1291.53L982.38,1291.53L983.5,1291.53L983.5,1305.97L984.63,1305.97L984.63,1291.53L985.75,1291.53L985.75,1291.53L986.87,1291.53L986.87,1291.53L987.99,1291.53L987.99,1291.53L989.11,1291.53L989.11,1291.53L990.24,1291.53L990.24,1305.97L991.36,1305.97L991.36,1291.53L992.48,1291.53L992.48,1291.53L993.6,1291.53L993.6,1291.53L994.72,1291.53L994.72,1291.53L995.85,1291.53L995.85,1291.53L996.97,1291.53L996.97,1291.53L998.09,1291.53L998.09,1291.53L999.21,1291.53L999.21,1291.53L1000.33,1291.53L1000.33,1291.53L1001.45,1291.53L1001.45,1291.53L1002.58,1291.53L1002.58,1305.97L1003.7,1305.97L1003.7,1291.53L1004.82,1291.53L1004.82,1291.53L1005.94,1291.53L1005.94,1291.53L1007.06,1291.53L1007.06,1291.53L1008.19,1291.53L1008.19,1291.53L1009.31,1291.53L1009.31,1291.53L1010.43,1291.53L1010.43,1305.97L1011.55,1305.97L1011.55,1291.53L1012.67,1291.53L1012.67,1291.53L1013.8,1291.53L1013.8,1291.53L1014.92,1291.53L1014.92,1305.97L1016.04,1305.97L1016.04,1305.97L1017.16,1305.97L1017.16,1305.97L1018.28,1305.97L1018.28,1291.53L1019.4,1291.53L1019.4,1291.53L1020.53,1291.53L1020.53,1291.53L1021.65,1291.53L1021.65,1291.53L1022.77,1291.53L1022.77,1291.53L1023.89,1291.53L1023.89,1291.53L1025.01,1291.53L1025.01,1291.53L1026.14,1291.53L1026.14,1291.53L1027.26,1291.53L1027.26,1291.53L1028.38,1291.53L1028.38,1291.53L1029.5,1291.53L1029.5,1291.53L1030.62,1291.53L1030.62,1291.53L1031.75,1291.53L1031.75,1305.97L1032.87,1305.97L1032.87,1291.53L1033.99,1291.53L1033.99,1291.53L1035.11,1291.53L1035.11,1291.53L1036.23,1291.53L1036.23,1291.53L1037.35,1291.53L1037.35,1305.97L1038.48,1305.97L1038.48,1291.53L1039.6,1291.53L1039.6,1291.53L1040.72,1291.53L1040.72,1291.53L1041.84,1291.53L1041.84,1291.53L1042.96,1291.53L1042.96,1291.53L1044.09,1291.53L1044.09,1291.53L1045.21,1291.53L1045.21,1291.53L1046.33,1291.53L1046.33,1291.53L1047.45,1291.53L1047.45,1291.53L1048.57,1291.53L1048.57,1291.53L1049.7,1291.53L1049.7,1291.53L1050.82,1291.53L1050.82,1291.53L1051.94,1291.53L1051.94,1291.53L1053.06,1291.53L1053.06,1291.53L1054.18,1291.53L1054.18,1291.53L1055.3,1291.53L1055.3,1291.53L1056.43,1291.53L1056.43,1291.53L1057.55,1291.53L1057.55,1291.53L1058.67,1291.53L1058.67,1291.53L1059.79,1291.53L1059.79,1305.97L1060.91,1305.97L1060.91,1291.53L1062.04,1291.53L1062.04,1291.53L1063.16,1291.53L1063.16,1291.53L1064.28,1291.53L1064.28,1305.97L1065.4,1305.97L1065.4,1305.97L1066.52,1305.97L1066.52,1291.53L1067.65,1291.53L1067.65,1291.53L1068.77,1291.53L1068.77,1291.53L1069.89,1291.53L1069.89,1291.53L1071.01,1291.53L1071.01,1291.53L1072.13,1291.53L1072.13,1291.53L1073.25,1291.53L1073.25,1305.97L1074.38,1305.97L1074.38,1305.97L1075.5,1305.97L1075.5,1291.53L1076.62,1291.53L1076.62,1291.53L1077.74,1291.53L1077.74,1291.53L1078.86,1291.53L1078.86,1291.53L1079.99,1291.53L1079.99,1291.53L1081.11,1291.53L1081.11,1291.53L1082.23,1291.53L1082.23,1291.53L1083.35,1291.53L1083.35,1291.53L1084.47,1291.53L1084.47,1291.53L1085.6,1291.53L1085.6,1291.53L1086.72,1291.53L1086.72,1291.53L1087.84,1291.53L1087.84,1291.53L1088.96,1291.53L1088.96,1291.53L1090.08,1291.53L1090.08,1291.53L1091.2,1291.53L1091.2,1291.53L1092.33,1291.53L1092.33,1291.53L1093.45,1291.53L1093.45,1291.53L1094.57,1291.53L1094.57,1291.53L1095.69,1291.53L1095.69,1291.53L1096.81,1291.53L1096.81,1291.53L1097.94,1291.53L1097.94,1291.53L1099.06,1291.53L1099.06,1291.53L1100.18,1291.53L1100.18,1291.53L1101.3,1291.53L1101.3,1291.53L1102.42,1291.53L1102.42,1291.53L1103.55,1291.53L1103.55,1291.53L1104.67,1291.53L1104.67,1291.53L1105.79,1291.53L1105.79,1291.53L1106.91,1291.53L1106.91,1291.53L1108.03,1291.53L1108.03,1291.53L1109.15,1291.53L1109.15,1291.53L1110.28,1291.53L1110.28,1291.53L1111.4,1291.53L1111.4,1291.53L1112.52,1291.53L1112.52,1291.53L1113.64,1291.53L1113.64,1291.53L1114.76,1291.53L1114.76,1305.97L1115.89,1305.97L1115.89,1291.53L1117.01,1291.53L1117.01,1291.53L1118.13,1291.53L1118.13,1291.53L1119.25,1291.53L1119.25,1291.53L1120.37,1291.53L1120.37,1291.53L1121.5,1291.53L1121.5,1291.53L1122.62,1291.53L1122.62,1291.53L1123.74,1291.53L1123.74,1291.53L1124.86,1291.53L1124.86,1291.53L1125.98,1291.53L1125.98,1291.53L1127.1,1291.53L1127.1,1291.53L1128.23,1291.53L1128.23,1291.53L1129.35,1291.53L1129.35,1291.53L1130.47,1291.53L1130.47,1291.53L1131.59,1291.53L1131.59,1291.53L1132.71,1291.53L1132.71,1291.53L1133.84,1291.53L1133.84,1291.53L1134.96,1291.53L1134.96,1291.53L1136.08,1291.53L1136.08,1291.53L1137.2,1291.53L1137.2,1291.53L1138.32,1291.53L1138.32,1291.53L1139.45,1291.53L1139.45,1291.53L1140.57,1291.53L1140.57,1291.53L1141.69,1291.53L1141.69,1305.97L1142.81,1305.97L1142.81,1291.53L1143.93,1291.53L1143.93,1291.53L1145.05,1291.53L1145.05,1291.53L1146.18,1291.53L1146.18,1291.53L1147.3,1291.53L1147.3,1291.53L1148.42,1291.53L1148.42,1291.53L1149.54,1291.53L1149.54,1291.53L1150.66,1291.53L1150.66,1305.97L1151.79,1305.97L1151.79,1291.53L1152.91,1291.53L1152.91,1291.53L1154.03,1291.53L1154.03,1291.53L1155.15,1291.53L1155.15,1291.53L1156.27,1291.53L1156.27,1305.97L1157.4,1305.97L1157.4,1291.53L1158.52,1291.53L1158.52,1291.53L1159.64,1291.53L1159.64,1291.53L1160.76,1291.53L1160.76,1291.53L1161.88,1291.53L1161.88,1291.53L1163,1291.53L1163,1291.53L1164.13,1291.53L1164.13,1291.53L1165.25,1291.53L1165.25,1291.53L1166.37,1291.53L1166.37,1291.53L1167.49,1291.53L1167.49,1291.53L1168.61,1291.53L1168.61,1291.53L1169.74,1291.53L1169.74,1291.53L1170.86,1291.53L1170.86,1291.53L1171.98,1291.53L1171.98,1291.53L1173.1,1291.53L1173.1,1291.53L1174.22,1291.53L1174.22,1291.53L1175.35,1291.53L1175.35,1305.97L1176.47,1305.97L1176.47,1291.53L1177.59,1291.53L1177.59,1291.53L1178.71,1291.53L1178.71,1291.53L1179.83,1291.53L1179.83,1291.53L1180.95,1291.53L1180.95,1291.53L1182.08,1291.53L1182.08,1291.53L1183.2,1291.53L1183.2,1291.53L1184.32,1291.53L1184.32,1305.97L1185.44,1305.97L1185.44,1291.53L1186.56,1291.53L1186.56,1291.53L1187.69,1291.53L1187.69,1291.53L1188.81,1291.53L1188.81,1305.97L1189.93,1305.97L1189.93,1291.53L1191.05,1291.53L1191.05,1291.53L1192.17,1291.53L1192.17,1291.53L1193.3,1291.53L1193.3,1291.53L1194.42,1291.53L1194.42,1291.53L1195.54,1291.53L1195.54,1291.53L1196.66,1291.53L1196.66,1291.53L1197.78,1291.53L1197.78,1291.53L1198.9,1291.53L1198.9,1291.53L1200.03,1291.53L1200.03,1291.53L1201.15,1291.53L1201.15,1291.53L1202.27,1291.53L1202.27,1291.53L1203.39,1291.53L1203.39,1291.53L1204.51,1291.53L1204.51,1320.4Z" fill="url(#lgp)"/>
<rect x="383.3" y="1305.97" width="821.21" height="14.43" fill="#a0eec2"/>
<path d="M1204.51,1320.4L1204.51,1291.53L1205.64,1291.53L1205.64,1291.53L1206.76,1291.53L1206.76,1305.97L1207.88,1305.97L1207.88,1291.53L1209,1291.53L1209,1291.53L1210.12,1291.53L1210.12,1291.53L1211.25,1291.53L1211.25,1305.97L1212.37,1305.97L1212.37,1291.53L1213.49,1291.53L1213.49,1291.53L1214.61,1291.53L1214.61,1291.53L1215.73,1291.53L1215.73,1305.97L1216.85,1305.97L1216.85,1291.53L1217.98,1291.53L1217.98,1262.66L1219.1,1262.66L1219.1,1262.66L1220.22,1262.66L1220.22,1118.32L1221.34,1118.32L1221.34,1118.32L1222.46,1118.32L1222.46,1089.45L1223.59,1089.45L1223.59,1204.93L1224.71,1204.93L1224.71,1190.49L1225.83,1190.49L1225.83,1204.93L1226.95,1204.93L1226.95,1204.93L1228.07,1204.93L1228.07,1204.93L1229.2,1204.93L1229.2,1176.06L1230.32,1176.06L1230.32,1046.15L1231.44,1046.15L1231.44,1046.15L1232.56,1046.15L1232.56,1060.58L1233.68,1060.58L1233.68,1060.58L1234.8,1060.58L1234.8,988.41L1235.93,988.41L1235.93,945.11L1237.05,945.11L1237.05,988.41L1238.17,988.41L1238.17,959.54L1239.29,959.54L1239.29,988.41L1240.41,988.41L1240.41,1118.32L1241.54,1118.32L1241.54,1118.32L1242.66,1118.32L1242.66,1147.19L1243.78,1147.19L1243.78,1190.49L1244.9,1190.49L1244.9,1190.49L1246.02,1190.49L1246.02,1219.36L1247.15,1219.36L1247.15,1204.93L1248.27,1204.93L1248.27,1204.93L1249.39,1204.93L1249.39,1204.93L1250.51,1204.93L1250.51,988.41L1251.63,988.41L1251.63,887.37L1252.75,887.37L1252.75,887.37L1253.88,887.37L1253.88,901.81L1255,901.81L1255,988.41L1256.12,988.41L1256.12,988.41L1257.24,988.41L1257.24,858.5L1258.36,858.5L1258.36,988.41L1259.49,988.41L1259.49,901.81L1260.61,901.81L1260.61,1089.45L1261.73,1089.45L1261.73,1089.45L1262.85,1089.45L1262.85,1132.75L1263.97,1132.75L1263.97,1132.75L1265.1,1132.75L1265.1,1161.62L1266.22,1161.62L1266.22,1204.93L1267.34,1204.93L1267.34,1147.19L1268.46,1147.19L1268.46,1161.62L1269.58,1161.62L1269.58,1161.62L1270.7,1161.62L1270.7,1161.62L1271.83,1161.62L1271.83,1017.28L1272.95,1017.28L1272.95,930.67L1274.07,930.67L1274.07,1089.45L1275.19,1089.45L1275.19,1103.89L1276.31,1103.89L1276.31,1089.45L1277.44,1089.45L1277.44,1190.49L1278.56,1190.49L1278.56,1147.19L1279.68,1147.19L1279.68,1147.19L1280.8,1147.19L1280.8,1147.19L1281.92,1147.19L1281.92,1132.75L1283.05,1132.75L1283.05,1132.75L1284.17,1132.75L1284.17,1161.62L1285.29,1161.62L1285.29,1147.19L1286.41,1147.19L1286.41,1161.62L1287.53,1161.62L1287.53,1147.19L1288.65,1147.19L1288.65,1147.19L1289.78,1147.19L1289.78,1132.75L1290.9,1132.75L1290.9,1161.62L1292.02,1161.62L1292.02,1132.75L1293.14,1132.75L1293.14,1176.06L1294.26,1176.06L1294.26,1147.19L1295.39,1147.19L1295.39,1176.06L1296.51,1176.06L1296.51,1219.36L1297.63,1219.36L1297.63,1219.36L1298.75,1219.36L1298.75,1219.36L1299.87,1219.36L1299.87,1219.36L1301,1219.36L1301,959.54L1302.12,959.54L1302.12,959.54L1303.24,959.54L1303.24,1089.45L1304.36,1089.45L1304.36,1089.45L1305.48,1089.45L1305.48,1103.89L1306.6,1103.89L1306.6,1161.62L1307.73,1161.62L1307.73,1161.62L1308.85,1161.62L1308.85,1233.79L1309.97,1233.79L1309.97,1233.79L1311.09,1233.79L1311.09,1233.79L1312.21,1233.79L1312.21,1233.79L1313.34,1233.79L1313.34,1233.79L1314.46,1233.79L1314.46,1233.79L1315.58,1233.79L1315.58,1262.66L1316.7,1262.66L1316.7,1305.97L1317.82,1305.97L1317.82,1291.53L1318.95,1291.53L1318.95,1305.97L1320.07,1305.97L1320.07,1291.53L1321.19,1291.53L1321.19,1291.53L1322.31,1291.53L1322.31,1305.97L1323.43,1305.97L1323.43,1291.53L1324.55,1291.53L1324.55,1305.97L1325.68,1305.97L1325.68,1291.53L1326.8,1291.53L1326.8,1305.97L1327.92,1305.97L1327.92,1291.53L1329.04,1291.53L1329.04,1291.53L1330.16,1291.53L1330.16,1305.97L1331.29,1305.97L1331.29,1291.53L1332.41,1291.53L1332.41,1305.97L1333.53,1305.97L1333.53,1291.53L1334.65,1291.53L1334.65,1305.97L1335.77,1305.97L1335.77,1291.53L1336.9,1291.53L1336.9,1291.53L1338.02,1291.53L1338.02,1305.97L1339.14,1305.97L1339.14,1291.53L1340.26,1291.53L1340.26,1305.97L1341.38,1305.97L1341.38,1291.53L1342.5,1291.53L1342.5,1305.97L1343.63,1305.97L1343.63,1291.53L1344.75,1291.53L1344.75,1291.53L1345.87,1291.53L1345.87,1305.97L1346.99,1305.97L1346.99,1291.53L1348.11,1291.53L1348.11,1305.97L1349.24,1305.97L1349.24,1291.53L1350.36,1291.53L1350.36,1305.97L1351.48,1305.97L1351.48,1291.53L1352.6,1291.53L1352.6,1320.4Z" fill="url(#dgp)"/>
<path d="M1352.6,1320.4L1352.6,1291.53L1353.72,1291.53L1353.72,1291.53L1354.85,1291.53L1354.85,1291.53L1355.97,1291.53L1355.97,1291.53L1357.09,1291.53L1357.09,1291.53L1358.21,1291.53L1358.21,1291.53L1359.33,1291.53L1359.33,1291.53L1360.45,1291.53L1360.45,1305.97L1361.58,1305.97L1361.58,1305.97L1362.7,1305.97L1362.7,1291.53L1363.82,1291.53L1363.82,1291.53L1364.94,1291.53L1364.94,1291.53L1366.06,1291.53L1366.06,1291.53L1367.19,1291.53L1367.19,1291.53L1368.31,1291.53L1368.31,1291.53L1369.43,1291.53L1369.43,1291.53L1370.55,1291.53L1370.55,1291.53L1371.67,1291.53L1371.67,1291.53L1372.8,1291.53L1372.8,1291.53L1373.92,1291.53L1373.92,1291.53L1375.04,1291.53L1375.04,1291.53L1376.16,1291.53L1376.16,1291.53L1377.28,1291.53L1377.28,1305.97L1378.4,1305.97L1378.4,1291.53L1379.53,1291.53L1379.53,1291.53L1380.65,1291.53L1380.65,1291.53L1381.77,1291.53L1381.77,1291.53L1382.89,1291.53L1382.89,1291.53L1384.01,1291.53L1384.01,1305.97L1385.14,1305.97L1385.14,1291.53L1386.26,1291.53L1386.26,1291.53L1387.38,1291.53L1387.38,1291.53L1388.5,1291.53L1388.5,1291.53L1389.62,1291.53L1389.62,1291.53L1390.75,1291.53L1390.75,1291.53L1391.87,1291.53L1391.87,1291.53L1392.99,1291.53L1392.99,1291.53L1394.11,1291.53L1394.11,1291.53L1395.23,1291.53L1395.23,1305.97L1396.35,1305.97L1396.35,1291.53L1397.48,1291.53L1397.48,1291.53L1398.6,1291.53L1398.6,1291.53L1399.72,1291.53L1399.72,1305.97L1400.84,1305.97L1400.84,1291.53L1401.96,1291.53L1401.96,1305.97L1403.09,1305.97L1403.09,1291.53L1404.21,1291.53L1404.21,1291.53L1405.33,1291.53L1405.33,1291.53L1406.45,1291.53L1406.45,1291.53L1407.57,1291.53L1407.57,1291.53L1408.7,1291.53L1408.7,1291.53L1409.82,1291.53L1409.82,1291.53L1410.94,1291.53L1410.94,1291.53L1412.06,1291.53L1412.06,1291.53L1413.18,1291.53L1413.18,1291.53L1414.3,1291.53L1414.3,1291.53L1415.43,1291.53L1415.43,1305.97L1416.55,1305.97L1416.55,1291.53L1417.67,1291.53L1417.67,1291.53L1418.79,1291.53L1418.79,1291.53L1419.91,1291.53L1419.91,1305.97L1421.04,1305.97L1421.04,1291.53L1422.16,1291.53L1422.16,1291.53L1423.28,1291.53L1423.28,1291.53L1424.4,1291.53L1424.4,1291.53L1425.52,1291.53L1425.52,1291.53L1426.65,1291.53L1426.65,1291.53L1427.77,1291.53L1427.77,1291.53L1428.89,1291.53L1428.89,1291.53L1430.01,1291.53L1430.01,1305.97L1431.13,1305.97L1431.13,1291.53L1432.25,1291.53L1432.25,1291.53L1433.38,1291.53L1433.38,1291.53L1434.5,1291.53L1434.5,1291.53L1435.62,1291.53L1435.62,1291.53L1436.74,1291.53L1436.74,1291.53L1437.86,1291.53L1437.86,1291.53L1438.99,1291.53L1438.99,1291.53L1440.11,1291.53L1440.11,1291.53L1441.23,1291.53L1441.23,1291.53L1442.35,1291.53L1442.35,1291.53L1443.47,1291.53L1443.47,1291.53L1444.6,1291.53L1444.6,1291.53L1445.72,1291.53L1445.72,1291.53L1446.84,1291.53L1446.84,1291.53L1447.96,1291.53L1447.96,1305.97L1449.08,1305.97L1449.08,1291.53L1450.2,1291.53L1450.2,1291.53L1451.33,1291.53L1451.33,1291.53L1452.45,1291.53L1452.45,1291.53L1453.57,1291.53L1453.57,1291.53L1454.69,1291.53L1454.69,1291.53L1455.81,1291.53L1455.81,1291.53L1456.94,1291.53L1456.94,1291.53L1458.06,1291.53L1458.06,1291.53L1459.18,1291.53L1459.18,1291.53L1460.3,1291.53L1460.3,1291.53L1461.42,1291.53L1461.42,1291.53L1462.55,1291.53L1462.55,1291.53L1463.67,1291.53L1463.67,1291.53L1464.79,1291.53L1464.79,1291.53L1465.91,1291.53L1465.91,1291.53L1467.03,1291.53L1467.03,1291.53L1468.15,1291.53L1468.15,1291.53L1469.28,1291.53L1469.28,1291.53L1470.4,1291.53L1470.4,1291.53L1471.52,1291.53L1471.52,1291.53L1472.64,1291.53L1472.64,1291.53L1473.76,1291.53L1473.76,1291.53L1474.89,1291.53L1474.89,1291.53L1476.01,1291.53L1476.01,1305.97L1477.13,1305.97L1477.13,1291.53L1478.25,1291.53L1478.25,1291.53L1479.37,1291.53L1479.37,1305.97L1480.5,1305.97L1480.5,1291.53L1481.62,1291.53L1481.62,1291.53L1482.74,1291.53L1482.74,1291.53L1483.86,1291.53L1483.86,1291.53L1484.98,1291.53L1484.98,1305.97L1486.1,1305.97L1486.1,1305.97L1487.23,1305.97L1487.23,1291.53L1488.35,1291.53L1488.35,1291.53L1489.47,1291.53L1489.47,1291.53L1490.59,1291.53L1490.59,1291.53L1491.71,1291.53L1491.71,1305.97L1492.84,1305.97L1492.84,1291.53L1493.96,1291.53L1493.96,1291.53L1495.08,1291.53L1495.08,1291.53L1496.2,1291.53L1496.2,1291.53L1497.32,1291.53L1497.32,1291.53L1498.45,1291.53L1498.45,1305.97L1499.57,1305.97L1499.57,1291.53L1500.69,1291.53L1500.69,1291.53L1501.81,1291.53L1501.81,1277.1L1502.93,1277.1L1502.93,1291.53L1504.05,1291.53L1504.05,1291.53L1505.18,1291.53L1505.18,1291.53L1506.3,1291.53L1506.3,1305.97L1507.42,1305.97L1507.42,1291.53L1508.54,1291.53L1508.54,1291.53L1509.66,1291.53L1509.66,1291.53L1510.79,1291.53L1510.79,1291.53L1511.91,1291.53L1511.91,1291.53L1513.03,1291.53L1513.03,1291.53L1514.15,1291.53L1514.15,1305.97L1515.27,1305.97L1515.27,1305.97L1516.4,1305.97L1516.4,1291.53L1517.52,1291.53L1517.52,1291.53L1518.64,1291.53L1518.64,1291.53L1519.76,1291.53L1519.76,1291.53L1520.88,1291.53L1520.88,1305.97L1522,1305.97L1522,1291.53L1523.13,1291.53L1523.13,1291.53L1524.25,1291.53L1524.25,1291.53L1525.37,1291.53L1525.37,1291.53L1526.49,1291.53L1526.49,1291.53L1527.61,1291.53L1527.61,1320.4Z" fill="url(#lgp)"/>
<rect x="1352.6" y="1305.97" width="175.01" height="14.43" fill="#a0eec2"/>
<path d="M1527.61,1320.4L1527.61,1277.1L1528.74,1277.1L1528.74,1277.1L1529.86,1277.1L1529.86,1262.66L1530.98,1262.66L1530.98,1262.66L1532.1,1262.66L1532.1,1277.1L1533.22,1277.1L1533.22,1277.1L1534.35,1277.1L1534.35,1277.1L1535.47,1277.1L1535.47,1291.53L1536.59,1291.53L1536.59,1291.53L1537.71,1291.53L1537.71,1291.53L1538.83,1291.53L1538.83,1291.53L1539.95,1291.53L1539.95,1291.53L1541.08,1291.53L1541.08,1291.53L1542.2,1291.53L1542.2,1277.1L1543.32,1277.1L1543.32,1118.32L1544.44,1118.32L1544.44,1118.32L1545.56,1118.32L1545.56,1190.49L1546.69,1190.49L1546.69,1190.49L1547.81,1190.49L1547.81,1204.93L1548.93,1204.93L1548.93,1204.93L1550.05,1204.93L1550.05,1204.93L1551.17,1204.93L1551.17,1204.93L1552.3,1204.93L1552.3,1219.36L1553.42,1219.36L1553.42,1204.93L1554.54,1204.93L1554.54,1219.36L1555.66,1219.36L1555.66,1219.36L1556.78,1219.36L1556.78,1219.36L1557.9,1219.36L1557.9,1176.06L1559.03,1176.06L1559.03,1176.06L1560.15,1176.06L1560.15,1176.06L1561.27,1176.06L1561.27,1118.32L1562.39,1118.32L1562.39,1118.32L1563.51,1118.32L1563.51,1147.19L1564.64,1147.19L1564.64,1147.19L1565.76,1147.19L1565.76,1147.19L1566.88,1147.19L1566.88,1176.06L1568,1176.06L1568,1075.02L1569.12,1075.02L1569.12,1075.02L1570.25,1075.02L1570.25,1118.32L1571.37,1118.32L1571.37,1147.19L1572.49,1147.19L1572.49,1132.75L1573.61,1132.75L1573.61,1132.75L1574.73,1132.75L1574.73,1132.75L1575.85,1132.75L1575.85,1147.19L1576.98,1147.19L1576.98,1147.19L1578.1,1147.19L1578.1,1089.45L1579.22,1089.45L1579.22,1089.45L1580.34,1089.45L1580.34,1147.19L1581.46,1147.19L1581.46,1147.19L1582.59,1147.19L1582.59,1219.36L1583.71,1219.36L1583.71,1147.19L1584.83,1147.19L1584.83,1219.36L1585.95,1219.36L1585.95,1161.62L1587.07,1161.62L1587.07,1161.62L1588.2,1161.62L1588.2,1161.62L1589.32,1161.62L1589.32,1219.36L1590.44,1219.36L1590.44,1219.36L1591.56,1219.36L1591.56,1248.23L1592.68,1248.23L1592.68,1219.36L1593.8,1219.36L1593.8,1219.36L1594.93,1219.36L1594.93,1219.36L1596.05,1219.36L1596.05,1248.23L1597.17,1248.23L1597.17,1219.36L1598.29,1219.36L1598.29,1219.36L1599.41,1219.36L1599.41,1233.79L1600.54,1233.79L1600.54,1248.23L1601.66,1248.23L1601.66,1233.79L1602.78,1233.79L1602.78,1248.23L1603.9,1248.23L1603.9,1233.79L1605.02,1233.79L1605.02,1248.23L1606.15,1248.23L1606.15,1248.23L1607.27,1248.23L1607.27,1248.23L1608.39,1248.23L1608.39,1248.23L1609.51,1248.23L1609.51,1219.36L1610.63,1219.36L1610.63,1219.36L1611.75,1219.36L1611.75,1233.79L1612.88,1233.79L1612.88,1233.79L1614,1233.79L1614,1233.79L1615.12,1233.79L1615.12,1219.36L1616.24,1219.36L1616.24,1219.36L1617.36,1219.36L1617.36,1233.79L1618.49,1233.79L1618.49,1233.79L1619.61,1233.79L1619.61,1233.79L1620.73,1233.79L1620.73,1233.79L1621.85,1233.79L1621.85,1233.79L1622.97,1233.79L1622.97,1233.79L1624.1,1233.79L1624.1,1219.36L1625.22,1219.36L1625.22,1161.62L1626.34,1161.62L1626.34,1161.62L1627.46,1161.62L1627.46,1161.62L1628.58,1161.62L1628.58,1161.62L1629.7,1161.62L1629.7,1161.62L1630.83,1161.62L1630.83,1161.62L1631.95,1161.62L1631.95,1103.89L1633.07,1103.89L1633.07,1103.89L1634.19,1103.89L1634.19,1103.89L1635.31,1103.89L1635.31,1103.89L1636.44,1103.89L1636.44,1075.02L1637.56,1075.02L1637.56,858.5L1638.68,858.5L1638.68,858.5L1639.8,858.5L1639.8,887.37L1640.92,887.37L1640.92,1002.85L1642.05,1002.85L1642.05,930.67L1643.17,930.67L1643.17,930.67L1644.29,930.67L1644.29,973.98L1645.41,973.98L1645.41,1103.89L1646.53,1103.89L1646.53,1103.89L1647.65,1103.89L1647.65,1233.79L1648.78,1233.79L1648.78,1233.79L1649.9,1233.79L1649.9,1233.79L1651.02,1233.79L1651.02,1233.79L1652.14,1233.79L1652.14,1233.79L1653.26,1233.79L1653.26,1233.79L1654.39,1233.79L1654.39,1233.79L1655.51,1233.79L1655.51,1233.79L1656.63,1233.79L1656.63,1233.79L1657.75,1233.79L1657.75,1233.79L1658.87,1233.79L1658.87,1233.79L1660,1233.79L1660,1305.97L1661.12,1305.97L1661.12,1291.53L1662.24,1291.53L1662.24,1305.97L1663.36,1305.97L1663.36,1291.53L1664.48,1291.53L1664.48,1305.97L1665.6,1305.97L1665.6,1291.53L1666.73,1291.53L1666.73,1291.53L1667.85,1291.53L1667.85,1305.97L1668.97,1305.97L1668.97,1291.53L1670.09,1291.53L1670.09,1305.97L1671.21,1305.97L1671.21,1291.53L1672.34,1291.53L1672.34,1305.97L1673.46,1305.97L1673.46,1291.53L1674.58,1291.53L1674.58,1291.53L1675.7,1291.53L1675.7,1320.4Z" fill="url(#dgp)"/>
<path d="M1675.7,1320.4L1675.7,1291.53L1676.82,1291.53L1676.82,1291.53L1677.95,1291.53L1677.95,1291.53L1679.07,1291.53L1679.07,1291.53L1680.19,1291.53L1680.19,1291.53L1681.31,1291.53L1681.31,1291.53L1682.43,1291.53L1682.43,1291.53L1683.55,1291.53L1683.55,1291.53L1684.68,1291.53L1684.68,1291.53L1685.8,1291.53L1685.8,1291.53L1686.92,1291.53L1686.92,1291.53L1688.04,1291.53L1688.04,1291.53L1689.16,1291.53L1689.16,1291.53L1690.29,1291.53L1690.29,1291.53L1691.41,1291.53L1691.41,1305.97L1692.53,1305.97L1692.53,1291.53L1693.65,1291.53L1693.65,1291.53L1694.77,1291.53L1694.77,1291.53L1695.9,1291.53L1695.9,1291.53L1697.02,1291.53L1697.02,1291.53L1698.14,1291.53L1698.14,1291.53L1699.26,1291.53L1699.26,1291.53L1700.38,1291.53L1700.38,1291.53L1701.5,1291.53L1701.5,1291.53L1702.63,1291.53L1702.63,1291.53L1703.75,1291.53L1703.75,1291.53L1704.87,1291.53L1704.87,1291.53L1705.99,1291.53L1705.99,1291.53L1707.11,1291.53L1707.11,1291.53L1708.24,1291.53L1708.24,1291.53L1709.36,1291.53L1709.36,1291.53L1710.48,1291.53L1710.48,1291.53L1711.6,1291.53L1711.6,1291.53L1712.72,1291.53L1712.72,1291.53L1713.85,1291.53L1713.85,1291.53L1714.97,1291.53L1714.97,1291.53L1716.09,1291.53L1716.09,1291.53L1717.21,1291.53L1717.21,1305.97L1718.33,1305.97L1718.33,1291.53L1719.45,1291.53L1719.45,1291.53L1720.58,1291.53L1720.58,1305.97L1721.7,1305.97L1721.7,1291.53L1722.82,1291.53L1722.82,1291.53L1723.94,1291.53L1723.94,1291.53L1725.06,1291.53L1725.06,1291.53L1726.19,1291.53L1726.19,1291.53L1727.31,1291.53L1727.31,1291.53L1728.43,1291.53L1728.43,1291.53L1729.55,1291.53L1729.55,1291.53L1730.67,1291.53L1730.67,1291.53L1731.8,1291.53L1731.8,1291.53L1732.92,1291.53L1732.92,1291.53L1734.04,1291.53L1734.04,1291.53L1735.16,1291.53L1735.16,1291.53L1736.28,1291.53L1736.28,1291.53L1737.4,1291.53L1737.4,1291.53L1738.53,1291.53L1738.53,1291.53L1739.65,1291.53L1739.65,1291.53L1740.77,1291.53L1740.77,1291.53L1741.89,1291.53L1741.89,1291.53L1743.01,1291.53L1743.01,1291.53L1744.14,1291.53L1744.14,1291.53L1745.26,1291.53L1745.26,1291.53L1746.38,1291.53L1746.38,1291.53L1747.5,1291.53L1747.5,1291.53L1748.62,1291.53L1748.62,1291.53L1749.75,1291.53L1749.75,1291.53L1750.87,1291.53L1750.87,1291.53L1751.99,1291.53L1751.99,1291.53L1753.11,1291.53L1753.11,1291.53L1754.23,1291.53L1754.23,1291.53L1755.35,1291.53L1755.35,1291.53L1756.48,1291.53L1756.48,1291.53L1757.6,1291.53L1757.6,1291.53L1758.72,1291.53L1758.72,1291.53L1759.84,1291.53L1759.84,1291.53L1760.96,1291.53L1760.96,1291.53L1762.09,1291.53L1762.09,1291.53L1763.21,1291.53L1763.21,1305.97L1764.33,1305.97L1764.33,1291.53L1765.45,1291.53L1765.45,1291.53L1766.57,1291.53L1766.57,1291.53L1767.7,1291.53L1767.7,1291.53L1768.82,1291.53L1768.82,1291.53L1769.94,1291.53L1769.94,1291.53L1771.06,1291.53L1771.06,1291.53L1772.18,1291.53L1772.18,1291.53L1773.3,1291.53L1773.3,1291.53L1774.43,1291.53L1774.43,1291.53L1775.55,1291.53L1775.55,1291.53L1776.67,1291.53L1776.67,1305.97L1777.79,1305.97L1777.79,1291.53L1778.91,1291.53L1778.91,1291.53L1780.04,1291.53L1780.04,1291.53L1781.16,1291.53L1781.16,1291.53L1782.28,1291.53L1782.28,1291.53L1783.4,1291.53L1783.4,1291.53L1784.52,1291.53L1784.52,1305.97L1785.65,1305.97L1785.65,1305.97L1786.77,1305.97L1786.77,1291.53L1787.89,1291.53L1787.89,1291.53L1789.01,1291.53L1789.01,1291.53L1790.13,1291.53L1790.13,1291.53L1791.25,1291.53L1791.25,1291.53L1792.38,1291.53L1792.38,1291.53L1793.5,1291.53L1793.5,1291.53L1794.62,1291.53L1794.62,1291.53L1795.74,1291.53L1795.74,1291.53L1796.86,1291.53L1796.86,1291.53L1797.99,1291.53L1797.99,1291.53L1799.11,1291.53L1799.11,1291.53L1800.23,1291.53L1800.23,1291.53L1801.35,1291.53L1801.35,1291.53L1802.47,1291.53L1802.47,1291.53L1803.6,1291.53L1803.6,1291.53L1804.72,1291.53L1804.72,1291.53L1805.84,1291.53L1805.84,1291.53L1806.96,1291.53L1806.96,1291.53L1808.08,1291.53L1808.08,1291.53L1809.2,1291.53L1809.2,1291.53L1810.33,1291.53L1810.33,1291.53L1811.45,1291.53L1811.45,1291.53L1812.57,1291.53L1812.57,1291.53L1813.69,1291.53L1813.69,1291.53L1814.81,1291.53L1814.81,1291.53L1815.94,1291.53L1815.94,1291.53L1817.06,1291.53L1817.06,1291.53L1818.18,1291.53L1818.18,1291.53L1819.3,1291.53L1819.3,1291.53L1820.42,1291.53L1820.42,1305.97L1821.55,1305.97L1821.55,1291.53L1822.67,1291.53L1822.67,1291.53L1823.79,1291.53L1823.79,1291.53L1824.91,1291.53L1824.91,1291.53L1826.03,1291.53L1826.03,1291.53L1827.15,1291.53L1827.15,1291.53L1828.28,1291.53L1828.28,1305.97L1829.4,1305.97L1829.4,1291.53L1830.52,1291.53L1830.52,1291.53L1831.64,1291.53L1831.64,1291.53L1832.76,1291.53L1832.76,1291.53L1833.89,1291.53L1833.89,1291.53L1835.01,1291.53L1835.01,1291.53L1836.13,1291.53L1836.13,1291.53L1837.25,1291.53L1837.25,1291.53L1838.37,1291.53L1838.37,1305.97L1839.5,1305.97L1839.5,1291.53L1840.62,1291.53L1840.62,1291.53L1841.74,1291.53L1841.74,1305.97L1842.86,1305.97L1842.86,1291.53L1843.98,1291.53L1843.98,1291.53L1845.1,1291.53L1845.1,1291.53L1846.23,1291.53L1846.23,1291.53L1847.35,1291.53L1847.35,1291.53L1848.47,1291.53L1848.47,1291.53L1849.59,1291.53L1849.59,1291.53L1850.71,1291.53L1850.71,1320.4Z" fill="url(#lgp)"/>
<rect x="1675.7" y="1305.97" width="175.01" height="14.43" fill="#a0eec2"/>
<path d="M1850.71,1320.4L1850.71,1291.53L1851.84,1291.53L1851.84,1291.53L1852.96,1291.53L1852.96,1291.53L1854.08,1291.53L1854.08,1291.53L1855.2,1291.53L1855.2,1291.53L1856.32,1291.53L1856.32,1291.53L1857.45,1291.53L1857.45,1291.53L1858.57,1291.53L1858.57,1291.53L1859.69,1291.53L1859.69,1291.53L1860.81,1291.53L1860.81,1277.1L1861.93,1277.1L1861.93,1291.53L1863.05,1291.53L1863.05,1291.53L1864.18,1291.53L1864.18,1132.75L1865.3,1132.75L1865.3,1089.45L1866.42,1089.45L1866.42,1089.45L1867.54,1089.45L1867.54,1147.19L1868.66,1147.19L1868.66,1017.28L1869.79,1017.28L1869.79,1017.28L1870.91,1017.28L1870.91,930.67L1872.03,930.67L1872.03,872.94L1873.15,872.94L1873.15,872.94L1874.27,872.94L1874.27,1031.71L1875.4,1031.71L1875.4,1060.58L1876.52,1060.58L1876.52,1118.32L1877.64,1118.32L1877.64,1147.19L1878.76,1147.19L1878.76,1147.19L1879.88,1147.19L1879.88,1190.49L1881,1190.49L1881,1161.62L1882.13,1161.62L1882.13,1132.75L1883.25,1132.75L1883.25,1132.75L1884.37,1132.75L1884.37,1190.49L1885.49,1190.49L1885.49,1147.19L1886.61,1147.19L1886.61,1219.36L1887.74,1219.36L1887.74,1204.93L1888.86,1204.93L1888.86,945.11L1889.98,945.11L1889.98,945.11L1891.1,945.11L1891.1,901.81L1892.22,901.81L1892.22,901.81L1893.35,901.81L1893.35,1046.15L1894.47,1046.15L1894.47,1190.49L1895.59,1190.49L1895.59,1147.19L1896.71,1147.19L1896.71,1190.49L1897.83,1190.49L1897.83,1132.75L1898.95,1132.75L1898.95,1147.19L1900.08,1147.19L1900.08,1190.49L1901.2,1190.49L1901.2,1176.06L1902.32,1176.06L1902.32,1161.62L1903.44,1161.62L1903.44,1161.62L1904.56,1161.62L1904.56,1161.62L1905.69,1161.62L1905.69,1190.49L1906.81,1190.49L1906.81,1161.62L1907.93,1161.62L1907.93,1190.49L1909.05,1190.49L1909.05,1233.79L1910.17,1233.79L1910.17,1219.36L1911.3,1219.36L1911.3,1233.79L1912.42,1233.79L1912.42,1248.23L1913.54,1248.23L1913.54,1219.36L1914.66,1219.36L1914.66,1248.23L1915.78,1248.23L1915.78,1190.49L1916.9,1190.49L1916.9,1147.19L1918.03,1147.19L1918.03,1075.02L1919.15,1075.02L1919.15,988.41L1920.27,988.41L1920.27,930.67L1921.39,930.67L1921.39,930.67L1922.51,930.67L1922.51,858.5L1923.64,858.5L1923.64,1132.75L1924.76,1132.75L1924.76,1031.71L1925.88,1031.71L1925.88,1176.06L1927,1176.06L1927,1147.19L1928.12,1147.19L1928.12,1176.06L1929.25,1176.06L1929.25,1161.62L1930.37,1161.62L1930.37,1176.06L1931.49,1176.06L1931.49,1233.79L1932.61,1233.79L1932.61,1262.66L1933.73,1262.66L1933.73,1233.79L1934.85,1233.79L1934.85,1176.06L1935.98,1176.06L1935.98,1176.06L1937.1,1176.06L1937.1,1161.62L1938.22,1161.62L1938.22,1161.62L1939.34,1161.62L1939.34,1161.62L1940.46,1161.62L1940.46,1161.62L1941.59,1161.62L1941.59,1190.49L1942.71,1190.49L1942.71,1161.62L1943.83,1161.62L1943.83,1190.49L1944.95,1190.49L1944.95,1161.62L1946.07,1161.62L1946.07,1190.49L1947.2,1190.49L1947.2,1118.32L1948.32,1118.32L1948.32,1118.32L1949.44,1118.32L1949.44,1147.19L1950.56,1147.19L1950.56,1147.19L1951.68,1147.19L1951.68,1161.62L1952.8,1161.62L1952.8,1161.62L1953.93,1161.62L1953.93,1161.62L1955.05,1161.62L1955.05,1233.79L1956.17,1233.79L1956.17,1233.79L1957.29,1233.79L1957.29,1233.79L1958.41,1233.79L1958.41,1233.79L1959.54,1233.79L1959.54,1233.79L1960.66,1233.79L1960.66,1233.79L1961.78,1233.79L1961.78,1233.79L1962.9,1233.79L1962.9,1233.79L1964.02,1233.79L1964.02,1233.79L1965.15,1233.79L1965.15,1291.53L1966.27,1291.53L1966.27,1305.97L1967.39,1305.97L1967.39,1291.53L1968.51,1291.53L1968.51,1305.97L1969.63,1305.97L1969.63,1291.53L1970.75,1291.53L1970.75,1305.97L1971.88,1305.97L1971.88,1291.53L1973,1291.53L1973,1291.53L1974.12,1291.53L1974.12,1305.97L1975.24,1305.97L1975.24,1291.53L1976.36,1291.53L1976.36,1305.97L1977.49,1305.97L1977.49,1291.53L1978.61,1291.53L1978.61,1305.97L1979.73,1305.97L1979.73,1291.53L1980.85,1291.53L1980.85,1291.53L1981.97,1291.53L1981.97,1305.97L1983.1,1305.97L1983.1,1291.53L1984.22,1291.53L1984.22,1305.97L1985.34,1305.97L1985.34,1291.53L1986.46,1291.53L1986.46,1305.97L1987.58,1305.97L1987.58,1291.53L1988.7,1291.53L1988.7,1291.53L1989.83,1291.53L1989.83,1305.97L1990.95,1305.97L1990.95,1291.53L1992.07,1291.53L1992.07,1305.97L1993.19,1305.97L1993.19,1291.53L1994.31,1291.53L1994.31,1305.97L1995.44,1305.97L1995.44,1291.53L1996.56,1291.53L1996.56,1291.53L1997.68,1291.53L1997.68,1291.53L1998.8,1291.53L1998.8,1320.4Z" fill="url(#dgp)"/>
<path d="M1998.8,1320.4L1998.8,1291.53L1999.92,1291.53L1999.92,1291.53L2001.05,1291.53L2001.05,1291.53L2002.17,1291.53L2002.17,1291.53L2003.29,1291.53L2003.29,1291.53L2004.41,1291.53L2004.41,1291.53L2005.53,1291.53L2005.53,1291.53L2006.65,1291.53L2006.65,1291.53L2007.78,1291.53L2007.78,1291.53L2008.9,1291.53L2008.9,1291.53L2010.02,1291.53L2010.02,1305.97L2011.14,1305.97L2011.14,1291.53L2012.26,1291.53L2012.26,1291.53L2013.39,1291.53L2013.39,1291.53L2014.51,1291.53L2014.51,1291.53L2015.63,1291.53L2015.63,1291.53L2016.75,1291.53L2016.75,1291.53L2017.87,1291.53L2017.87,1291.53L2019,1291.53L2019,1291.53L2020.12,1291.53L2020.12,1291.53L2021.24,1291.53L2021.24,1291.53L2022.36,1291.53L2022.36,1291.53L2023.48,1291.53L2023.48,1291.53L2024.6,1291.53L2024.6,1291.53L2025.73,1291.53L2025.73,1291.53L2026.85,1291.53L2026.85,1291.53L2027.97,1291.53L2027.97,1291.53L2029.09,1291.53L2029.09,1291.53L2030.21,1291.53L2030.21,1305.97L2031.34,1305.97L2031.34,1291.53L2032.46,1291.53L2032.46,1291.53L2033.58,1291.53L2033.58,1291.53L2034.7,1291.53L2034.7,1291.53L2035.82,1291.53L2035.82,1291.53L2036.95,1291.53L2036.95,1305.97L2038.07,1305.97L2038.07,1291.53L2039.19,1291.53L2039.19,1291.53L2040.31,1291.53L2040.31,1291.53L2041.43,1291.53L2041.43,1291.53L2042.55,1291.53L2042.55,1291.53L2043.68,1291.53L2043.68,1291.53L2044.8,1291.53L2044.8,1291.53L2045.92,1291.53L2045.92,1291.53L2047.04,1291.53L2047.04,1291.53L2048.16,1291.53L2048.16,1291.53L2049.29,1291.53L2049.29,1305.97L2050.41,1305.97L2050.41,1291.53L2051.53,1291.53L2051.53,1291.53L2052.65,1291.53L2052.65,1291.53L2053.77,1291.53L2053.77,1291.53L2054.9,1291.53L2054.9,1291.53L2056.02,1291.53L2056.02,1291.53L2057.14,1291.53L2057.14,1291.53L2058.26,1291.53L2058.26,1291.53L2059.38,1291.53L2059.38,1291.53L2060.5,1291.53L2060.5,1291.53L2061.63,1291.53L2061.63,1291.53L2062.75,1291.53L2062.75,1291.53L2063.87,1291.53L2063.87,1291.53L2064.99,1291.53L2064.99,1291.53L2066.11,1291.53L2066.11,1305.97L2067.24,1305.97L2067.24,1291.53L2068.36,1291.53L2068.36,1291.53L2069.48,1291.53L2069.48,1291.53L2070.6,1291.53L2070.6,1291.53L2071.72,1291.53L2071.72,1291.53L2072.85,1291.53L2072.85,1291.53L2073.97,1291.53L2073.97,1291.53L2075.09,1291.53L2075.09,1291.53L2076.21,1291.53L2076.21,1291.53L2077.33,1291.53L2077.33,1291.53L2078.45,1291.53L2078.45,1291.53L2079.58,1291.53L2079.58,1291.53L2080.7,1291.53L2080.7,1291.53L2081.82,1291.53L2081.82,1291.53L2082.94,1291.53L2082.94,1291.53L2084.06,1291.53L2084.06,1291.53L2085.19,1291.53L2085.19,1291.53L2086.31,1291.53L2086.31,1291.53L2087.43,1291.53L2087.43,1305.97L2088.55,1305.97L2088.55,1291.53L2089.67,1291.53L2089.67,1291.53L2090.8,1291.53L2090.8,1291.53L2091.92,1291.53L2091.92,1291.53L2093.04,1291.53L2093.04,1305.97L2094.16,1305.97L2094.16,1291.53L2095.28,1291.53L2095.28,1305.97L2096.4,1305.97L2096.4,1291.53L2097.53,1291.53L2097.53,1291.53L2098.65,1291.53L2098.65,1305.97L2099.77,1305.97L2099.77,1291.53L2100.89,1291.53L2100.89,1305.97L2102.01,1305.97L2102.01,1291.53L2103.14,1291.53L2103.14,1291.53L2104.26,1291.53L2104.26,1305.97L2105.38,1305.97L2105.38,1291.53L2106.5,1291.53L2106.5,1291.53L2107.62,1291.53L2107.62,1305.97L2108.75,1305.97L2108.75,1291.53L2109.87,1291.53L2109.87,1291.53L2110.99,1291.53L2110.99,1305.97L2112.11,1305.97L2112.11,1291.53L2113.23,1291.53L2113.23,1291.53L2114.35,1291.53L2114.35,1305.97L2115.48,1305.97L2115.48,1291.53L2116.6,1291.53L2116.6,1291.53L2117.72,1291.53L2117.72,1305.97L2118.84,1305.97L2118.84,1291.53L2119.96,1291.53L2119.96,1291.53L2121.09,1291.53L2121.09,1305.97L2122.21,1305.97L2122.21,1291.53L2123.33,1291.53L2123.33,1291.53L2124.45,1291.53L2124.45,1291.53L2125.57,1291.53L2125.57,1291.53L2126.7,1291.53L2126.7,1305.97L2127.82,1305.97L2127.82,1291.53L2128.94,1291.53L2128.94,1291.53L2130.06,1291.53L2130.06,1305.97L2131.18,1305.97L2131.18,1291.53L2132.3,1291.53L2132.3,1291.53L2133.43,1291.53L2133.43,1291.53L2134.55,1291.53L2134.55,1305.97L2135.67,1305.97L2135.67,1291.53L2136.79,1291.53L2136.79,1291.53L2137.91,1291.53L2137.91,1291.53L2139.04,1291.53L2139.04,1305.97L2140.16,1305.97L2140.16,1291.53L2141.28,1291.53L2141.28,1291.53L2142.4,1291.53L2142.4,1291.53L2143.52,1291.53L2143.52,1291.53L2144.65,1291.53L2144.65,1291.53L2145.77,1291.53L2145.77,1305.97L2146.89,1305.97L2146.89,1291.53L2148.01,1291.53L2148.01,1291.53L2149.13,1291.53L2149.13,1291.53L2150.25,1291.53L2150.25,1305.97L2151.38,1305.97L2151.38,1291.53L2152.5,1291.53L2152.5,1291.53L2153.62,1291.53L2153.62,1291.53L2154.74,1291.53L2154.74,1291.53L2155.86,1291.53L2155.86,1305.97L2156.99,1305.97L2156.99,1291.53L2158.11,1291.53L2158.11,1291.53L2159.23,1291.53L2159.23,1291.53L2160.35,1291.53L2160.35,1291.53L2161.47,1291.53L2161.47,1305.97L2162.6,1305.97L2162.6,1291.53L2163.72,1291.53L2163.72,1291.53L2164.84,1291.53L2164.84,1291.53L2165.96,1291.53L2165.96,1291.53L2167.08,1291.53L2167.08,1291.53L2168.2,1291.53L2168.2,1291.53L2169.33,1291.53L2169.33,1305.97L2170.45,1305.97L2170.45,1291.53L2171.57,1291.53L2171.57,1291.53L2172.69,1291.53L2172.69,1291.53L2173.81,1291.53L2173.81,1320.4Z" fill="url(#lgp)"/>
<rect x="1998.8" y="1305.97" width="175.01" height="14.43" fill="#a0eec2"/>
<path d="M2173.81,1320.4L2173.81,1305.97L2174.94,1305.97L2174.94,1291.53L2176.06,1291.53L2176.06,1291.53L2177.18,1291.53L2177.18,1291.53L2178.3,1291.53L2178.3,1305.97L2179.42,1305.97L2179.42,1291.53L2180.55,1291.53L2180.55,1291.53L2181.67,1291.53L2181.67,1291.53L2182.79,1291.53L2182.79,1291.53L2183.91,1291.53L2183.91,1291.53L2185.03,1291.53L2185.03,1305.97L2186.15,1305.97L2186.15,1291.53L2187.28,1291.53L2187.28,1204.93L2188.4,1204.93L2188.4,1075.02L2189.52,1075.02L2189.52,959.54L2190.64,959.54L2190.64,973.98L2191.76,973.98L2191.76,872.94L2192.89,872.94L2192.89,901.81L2194.01,901.81L2194.01,945.11L2195.13,945.11L2195.13,1132.75L2196.25,1132.75L2196.25,1190.49L2197.37,1190.49L2197.37,1204.93L2198.5,1204.93L2198.5,1233.79L2199.62,1233.79L2199.62,1204.93L2200.74,1204.93L2200.74,1248.23L2201.86,1248.23L2201.86,1262.66L2202.98,1262.66L2202.98,1204.93L2204.1,1204.93L2204.1,1233.79L2205.23,1233.79L2205.23,1277.1L2206.35,1277.1L2206.35,1204.93L2207.47,1204.93L2207.47,1147.19L2208.59,1147.19L2208.59,1176.06L2209.71,1176.06L2209.71,1204.93L2210.84,1204.93L2210.84,1132.75L2211.96,1132.75L2211.96,1176.06L2213.08,1176.06L2213.08,1204.93L2214.2,1204.93L2214.2,1147.19L2215.32,1147.19L2215.32,1161.62L2216.45,1161.62L2216.45,1190.49L2217.57,1190.49L2217.57,1176.06L2218.69,1176.06L2218.69,1147.19L2219.81,1147.19L2219.81,1176.06L2220.93,1176.06L2220.93,1248.23L2222.05,1248.23L2222.05,1204.93L2223.18,1204.93L2223.18,1233.79L2224.3,1233.79L2224.3,1277.1L2225.42,1277.1L2225.42,1219.36L2226.54,1219.36L2226.54,1248.23L2227.66,1248.23L2227.66,1262.66L2228.79,1262.66L2228.79,1176.06L2229.91,1176.06L2229.91,887.37L2231.03,887.37L2231.03,1204.93L2232.15,1204.93L2232.15,1161.62L2233.27,1161.62L2233.27,1132.75L2234.4,1132.75L2234.4,1147.19L2235.52,1147.19L2235.52,1176.06L2236.64,1176.06L2236.64,1147.19L2237.76,1147.19L2237.76,858.5L2238.88,858.5L2238.88,844.07L2240,844.07L2240,829.63L2241.13,829.63L2241.13,887.37L2242.25,887.37L2242.25,844.07L2243.37,844.07L2243.37,1147.19L2244.49,1147.19L2244.49,1233.79L2245.61,1233.79L2245.61,1219.36L2246.74,1219.36L2246.74,1161.62L2247.86,1161.62L2247.86,1204.93L2248.98,1204.93L2248.98,1161.62L2250.1,1161.62L2250.1,1176.06L2251.22,1176.06L2251.22,1161.62L2252.35,1161.62L2252.35,1089.45L2253.47,1089.45L2253.47,1161.62L2254.59,1161.62L2254.59,1132.75L2255.71,1132.75L2255.71,1147.19L2256.83,1147.19L2256.83,1161.62L2257.95,1161.62L2257.95,1046.15L2259.08,1046.15L2259.08,1103.89L2260.2,1103.89L2260.2,1233.79L2261.32,1233.79L2261.32,1219.36L2262.44,1219.36L2262.44,1233.79L2263.56,1233.79L2263.56,1176.06L2264.69,1176.06L2264.69,1219.36L2265.81,1219.36L2265.81,1103.89L2266.93,1103.89L2266.93,1017.28L2268.05,1017.28L2268.05,1060.58L2269.17,1060.58L2269.17,1031.71L2270.3,1031.71L2270.3,1103.89L2271.42,1103.89L2271.42,1031.71L2272.54,1031.71L2272.54,1176.06L2273.66,1176.06L2273.66,1103.89L2274.78,1103.89L2274.78,1031.71L2275.9,1031.71L2275.9,1219.36L2277.03,1219.36L2277.03,1132.75L2278.15,1132.75L2278.15,1161.62L2279.27,1161.62L2279.27,1176.06L2280.39,1176.06L2280.39,1161.62L2281.51,1161.62L2281.51,1219.36L2282.64,1219.36L2282.64,1161.62L2283.76,1161.62L2283.76,1190.49L2284.88,1190.49L2284.88,1204.93L2286,1204.93L2286,1176.06L2287.12,1176.06L2287.12,1233.79L2288.25,1233.79L2288.25,1161.62L2289.37,1161.62L2289.37,1176.06L2290.49,1176.06L2290.49,1219.36L2291.61,1219.36L2291.61,930.67L2292.73,930.67L2292.73,945.11L2293.85,945.11L2293.85,901.81L2294.98,901.81L2294.98,1118.32L2296.1,1118.32L2296.1,1060.58L2297.22,1060.58L2297.22,1190.49L2298.34,1190.49L2298.34,1147.19L2299.46,1147.19L2299.46,1147.19L2300.59,1147.19L2300.59,1132.75L2301.71,1132.75L2301.71,1233.79L2302.83,1233.79L2302.83,1233.79L2303.95,1233.79L2303.95,1233.79L2305.07,1233.79L2305.07,1233.79L2306.2,1233.79L2306.2,1248.23L2307.32,1248.23L2307.32,1219.36L2308.44,1219.36L2308.44,1320.4Z" fill="url(#dgp)"/>
</g>
<line x1="155" y1="815.2" x2="155" y2="1321.4" stroke="#666" stroke-width="2"/>
<line x1="144" y1="1320.4" x2="155" y2="1320.4" stroke="#888" stroke-width="1"/>
<text x="133" y="1327.3" font-size="20" fill="#333" text-anchor="end" font-weight="normal" textLength="11.8" lengthAdjust="spacingAndGlyphs" >0</text>
<line x1="144" y1="1248.23" x2="155" y2="1248.23" stroke="#888" stroke-width="1"/>
<text x="133" y="1255.13" font-size="20" fill="#333" text-anchor="end" font-weight="normal" textLength="11.8" lengthAdjust="spacingAndGlyphs" >5</text>
<line x1="144" y1="1176.06" x2="155" y2="1176.06" stroke="#888" stroke-width="1"/>
<text x="133" y="1182.96" font-size="20" fill="#333" text-anchor="end" font-weight="normal" textLength="23.6" lengthAdjust="spacingAndGlyphs" >10</text>
<line x1="144" y1="1103.89" x2="155" y2="1103.89" stroke="#888" stroke-width="1"/>
<text x="133" y="1110.79" font-size="20" fill="#333" text-anchor="end" font-weight="normal" textLength="23.6" lengthAdjust="spacingAndGlyphs" >15</text>
<line x1="144" y1="1031.71" x2="155" y2="1031.71" stroke="#888" stroke-width="1"/>
<text x="133" y="1038.61" font-size="20" fill="#333" text-anchor="end" font-weight="normal" textLength="23.6" lengthAdjust="spacingAndGlyphs" >20</text>
<line x1="144" y1="959.54" x2="155" y2="959.54" stroke="#888" stroke-width="1"/>
<text x="133" y="966.44" font-size="20" fill="#333" text-anchor="end" font-weight="normal" textLength="23.6" lengthAdjust="spacingAndGlyphs" >25</text>
<line x1="144" y1="887.37" x2="155" y2="887.37" stroke="#888" stroke-width="1"/>
<text x="133" y="894.27" font-size="20" fill="#333" text-anchor="end" font-weight="normal" textLength="23.6" lengthAdjust="spacingAndGlyphs" >30</text>
<line x1="144" y1="815.2" x2="155" y2="815.2" stroke="#888" stroke-width="1"/>
<text x="133" y="822.1" font-size="20" fill="#333" text-anchor="end" font-weight="normal" textLength="23.6" lengthAdjust="spacingAndGlyphs" >35</text>
<line x1="155" y1="1322" x2="155" y2="1332" stroke="#acacac" stroke-width="1.2"/>
<text x="155.9" y="1357" font-size="20" fill="#1a1a1a" text-anchor="middle" font-weight="normal" textLength="74.6" lengthAdjust="spacingAndGlyphs" stroke="#1a1a1a" stroke-width="0.3">ven. 10</text>
<line x1="478.1" y1="1322" x2="478.1" y2="1332" stroke="#acacac" stroke-width="1.2"/>
<text x="478.1" y="1357" font-size="20" fill="#1a1a1a" text-anchor="middle" font-weight="normal" textLength="80.3" lengthAdjust="spacingAndGlyphs" stroke="#1a1a1a" stroke-width="0.3">sam. 11</text>
<line x1="801.2" y1="1322" x2="801.2" y2="1332" stroke="#acacac" stroke-width="1.2"/>
<text x="802.1" y="1357" font-size="20" fill="#1a1a1a" text-anchor="middle" font-weight="normal" textLength="76.2" lengthAdjust="spacingAndGlyphs" stroke="#1a1a1a" stroke-width="0.3">dim. 12</text>
<line x1="1124.3" y1="1322" x2="1124.3" y2="1332" stroke="#acacac" stroke-width="1.2"/>
<text x="1124.8" y="1357" font-size="20" fill="#1a1a1a" text-anchor="middle" font-weight="normal" textLength="71" lengthAdjust="spacingAndGlyphs" stroke="#1a1a1a" stroke-width="0.3">lun. 13</text>
<line x1="1447.4" y1="1322" x2="1447.4" y2="1332" stroke="#acacac" stroke-width="1.2"/>
<text x="1447.9" y="1357" font-size="20" fill="#1a1a1a" text-anchor="middle" font-weight="normal" textLength="76.5" lengthAdjust="spacingAndGlyphs" stroke="#1a1a1a" stroke-width="0.3">mar. 14</text>
<line x1="1770.5" y1="1322" x2="1770.5" y2="1332" stroke="#acacac" stroke-width="1.2"/>
<text x="1771.1" y="1357" font-size="20" fill="#1a1a1a" text-anchor="middle" font-weight="normal" textLength="75.8" lengthAdjust="spacingAndGlyphs" stroke="#1a1a1a" stroke-width="0.3">mer. 15</text>
<line x1="2093.6" y1="1322" x2="2093.6" y2="1332" stroke="#acacac" stroke-width="1.2"/>
<text x="2093.1" y="1357" font-size="20" fill="#1a1a1a" text-anchor="middle" font-weight="normal" textLength="71" lengthAdjust="spacingAndGlyphs" stroke="#1a1a1a" stroke-width="0.3">jeu. 16</text>
<text x="0" y="0" font-size="21" fill="#333" text-anchor="middle" font-weight="normal" transform="translate(85,1067) rotate(-90)">kW</text>
<path d="M1990,67.5 H2397 a8,8 0 0 1 8,8 V89.9 a8,8 0 0 1 -8,8 H1998 a8,8 0 0 1 -8,-8 Z" fill="#fff"/>
<text x="2112" y="89.3" font-size="25" fill="#111" text-anchor="start" font-weight="bold" textLength="171" lengthAdjust="spacingAndGlyphs" >LHB-site-L161</text>
<rect x="1992.6" y="108.6" width="409.8" height="56.3" rx="9" fill="#fff" stroke="#7d7d7d" stroke-width="3.3"/>
<text x="2052" y="147.7" font-size="27" fill="#111" text-anchor="start" font-weight="normal" textLength="311.5" lengthAdjust="spacingAndGlyphs" >Consommation: 188 kWh</text>
<rect x="1992.6" y="179.3" width="409.8" height="55.6" rx="9" fill="#fff" stroke="#7d7d7d" stroke-width="3.3"/>
<text x="2114" y="218.3" font-size="27" fill="#111" text-anchor="start" font-weight="normal" textLength="187.5" lengthAdjust="spacingAndGlyphs" >P Max :&#160; 34 kW</text>
<rect x="1992.6" y="249.1" width="409.8" height="55.9" rx="9" fill="#fff" stroke="#7d7d7d" stroke-width="3.3"/>
<text x="2128.7" y="287.6" font-size="27" fill="#111" text-anchor="start" font-weight="normal" textLength="159.3" lengthAdjust="spacingAndGlyphs" >P min : 1 kW</text>
<rect x="562.1" y="806.3" width="411.3" height="57.2" rx="9" fill="#fff" stroke="#7d7d7d" stroke-width="3.3"/>
<text x="622.4" y="845.9" font-size="27" fill="#111" text-anchor="start" font-weight="normal" textLength="310.5" lengthAdjust="spacingAndGlyphs" >Consommation: 648 kWh</text>
<rect x="1100.7" y="806.3" width="410.4" height="57.2" rx="9" fill="#fff" stroke="#7d7d7d" stroke-width="3.3"/>
<text x="1221.4" y="845.9" font-size="27" fill="#111" text-anchor="start" font-weight="normal" textLength="188.1" lengthAdjust="spacingAndGlyphs" >P Max :&#160; 34 kW</text>
<rect x="1611" y="806.3" width="410.4" height="57.2" rx="9" fill="#fff" stroke="#7d7d7d" stroke-width="3.3"/>
<text x="1747" y="845.9" font-size="27" fill="#111" text-anchor="start" font-weight="normal" textLength="158.7" lengthAdjust="spacingAndGlyphs" >P min : 1 kW</text>
<rect x="1048" y="542.4" width="521.4" height="69.5" rx="11" fill="rgba(255,255,255,0.9)"/>
<text x="1171.7" y="589.6" font-size="31" fill="#0a0f0f" text-anchor="start" font-weight="bold" textLength="283.5" lengthAdjust="spacingAndGlyphs" >jeudi 16 avril 2026</text>
<rect x="176.4" y="49.1" width="481.8" height="77.7" fill="#0b0b19"/>
<linearGradient id="ecog" gradientUnits="userSpaceOnUse" x1="0" y1="70" x2="0" y2="112"><stop offset="0" stop-color="#00f0c8"/><stop offset="0.56" stop-color="#00f0c8"/><stop offset="0.6" stop-color="#00b495"/><stop offset="1" stop-color="#00b495"/></linearGradient>
<text x="189" y="109.3" font-size="57" font-weight="normal" stroke-linejoin="round" stroke-width="1.8" textLength="184" lengthAdjust="spacingAndGlyphs"><tspan fill="url(#ecog)" stroke="url(#ecog)">éco</tspan><tspan fill="#fff" stroke="#fff">watt</tspan></text>
<path d="M300.5,107.5 L313.8,68" stroke="#fff" stroke-width="6.8" stroke-linecap="round"/>
<ellipse cx="433.8" cy="89" rx="25.6" ry="28" fill="#06b4e0"/>
<text x="434.5" y="96.9" font-size="22" fill="#fff" text-anchor="middle" font-weight="normal" textLength="31.5" lengthAdjust="spacingAndGlyphs" >Rte</text>
<text x="468.3" y="79" font-size="11" fill="#1aa8dc" text-anchor="start" font-weight="bold" textLength="48" lengthAdjust="spacingAndGlyphs" >Le réseau</text>
<text x="468.3" y="92.7" font-size="11" fill="#1aa8dc" text-anchor="start" font-weight="bold" textLength="60.5" lengthAdjust="spacingAndGlyphs" >de transport</text>
<text x="468.3" y="105.3" font-size="11" fill="#1aa8dc" text-anchor="start" font-weight="bold" textLength="56" lengthAdjust="spacingAndGlyphs" >d’électricité</text>
<rect x="546.5" y="61.4" width="100.4" height="55.4" fill="#fff"/>
<rect x="553.3" y="68.5" width="6" height="6.8" fill="#2a3a8a"/><rect x="565.3" y="68.5" width="6" height="6.8" fill="#e0202a"/>
<text x="552.8" y="84.8" font-size="7" fill="#222" text-anchor="start" font-weight="bold" textLength="43.2" lengthAdjust="spacingAndGlyphs" >RÉPUBLIQUE</text>
<text x="552.8" y="92.8" font-size="7" fill="#222" text-anchor="start" font-weight="bold" textLength="40" lengthAdjust="spacingAndGlyphs" >FRANÇAISE</text>
<rect x="553" y="98" width="11" height="1" fill="#999"/><rect x="553" y="103" width="11" height="1" fill="#999"/><rect x="553" y="108" width="16" height="1" fill="#999"/>
<rect x="606.5" y="66.4" width="35.5" height="45.4" fill="#fff" stroke="#3a6ab8" stroke-width="1.2"/>
<text x="624" y="74.8" font-size="6.5" fill="#e0202a" text-anchor="middle" font-weight="bold" textLength="25.8" lengthAdjust="spacingAndGlyphs" >ADEME</text>
<circle cx="624" cy="87" r="8.8" fill="#2b5fa8"/>
<rect x="611" y="99" width="26" height="2" fill="#f08080"/><rect x="611" y="103" width="26" height="2" fill="#f08080"/><rect x="611" y="107" width="26" height="2" fill="#f08080"/>
<path d="M169.3,135.7 H660.7 V258.4 H169.3 Z M172.4,138.8 V189 H289.0 V138.8 Z M172.4,194.7 V253.2 H289.0 V194.7 Z M294.0,138.8 V189 H410.8 V138.8 Z M294.0,194.7 V253.2 H410.8 V194.7 Z M416.5,138.8 V189 H533.0 V138.8 Z M416.5,194.7 V253.2 H533.0 V194.7 Z M538.6,138.8 V189 H655.4 V138.8 Z M538.6,194.7 V253.2 H655.4 V194.7 Z" fill="#d9d9d9" fill-rule="evenodd"/>
<g transform="translate(180.2,194.7) scale(0.9962,0.9982)"><rect width="106" height="55.5" fill="url(#tealg)"/><path d="M15,0 C38,16 58,24.5 76,24.3 C89,24 99,19.5 106,16 V0 Z" fill="#00f0c8"/><path d="M29.5,0 C45,8 58,10 70,9.8 C84,9.5 97,6 106,3.6 V0 Z" fill="#00a088"/></g>
<g transform="translate(301.8,195.7) scale(1.0019,1.0180)"><rect width="106" height="55.5" fill="url(#tealg)"/><path d="M15,0 C38,16 58,24.5 76,24.3 C89,24 99,19.5 106,16 V0 Z" fill="#00f0c8"/><path d="M29.5,0 C45,8 58,10 70,9.8 C84,9.5 97,6 106,3.6 V0 Z" fill="#00a088"/></g>
<g transform="translate(424.0,196.0) scale(1.0000,1.0018)"><rect width="106" height="55.5" fill="url(#tealg)"/><path d="M15,0 C38,16 58,24.5 76,24.3 C89,24 99,19.5 106,16 V0 Z" fill="#00f0c8"/><path d="M29.5,0 C45,8 58,10 70,9.8 C84,9.5 97,6 106,3.6 V0 Z" fill="#00a088"/></g>
<g transform="translate(544.2,196.0) scale(1.0009,1.0018)"><rect width="106" height="55.5" fill="url(#tealg)"/><path d="M15,0 C38,16 58,24.5 76,24.3 C89,24 99,19.5 106,16 V0 Z" fill="#00f0c8"/><path d="M29.5,0 C45,8 58,10 70,9.8 C84,9.5 97,6 106,3.6 V0 Z" fill="#00a088"/></g>
<text x="223.2" y="174" font-size="32" fill="#111" text-anchor="start" font-weight="normal" textLength="16.5" lengthAdjust="spacingAndGlyphs" stroke="#111" stroke-width="0.5">J</text>
<text x="312" y="174" font-size="32" fill="#111" text-anchor="start" font-weight="normal" textLength="19" lengthAdjust="spacingAndGlyphs" stroke="#111" stroke-width="0.5">J</text>
<text x="346.1" y="174.2" font-size="35" fill="#111" text-anchor="start" font-weight="normal" textLength="16" lengthAdjust="spacingAndGlyphs" >+</text>
<path d="M381.2,157.5 L388.2,152.8 V174.5" fill="none" stroke="#111" stroke-width="2.6"/>
<text x="434" y="174" font-size="32" fill="#111" text-anchor="start" font-weight="normal" textLength="19" lengthAdjust="spacingAndGlyphs" stroke="#111" stroke-width="0.5">J</text>
<text x="467.7" y="174.2" font-size="35" fill="#111" text-anchor="start" font-weight="normal" textLength="16" lengthAdjust="spacingAndGlyphs" >+</text>
<text x="498" y="174.5" font-size="31" fill="#000" text-anchor="start" font-weight="bold" textLength="20" lengthAdjust="spacingAndGlyphs" >2</text>
<text x="556" y="174" font-size="32" fill="#111" text-anchor="start" font-weight="normal" textLength="19" lengthAdjust="spacingAndGlyphs" stroke="#111" stroke-width="0.5">J</text>
<text x="589.7" y="174.2" font-size="35" fill="#111" text-anchor="start" font-weight="normal" textLength="16" lengthAdjust="spacingAndGlyphs" >+</text>
<text x="620" y="174.5" font-size="31" fill="#000" text-anchor="start" font-weight="normal" textLength="18" lengthAdjust="spacingAndGlyphs" stroke="#000" stroke-width="1">3</text>
<rect x="2322" y="1322.5" width="115.6" height="58" fill="#fff"/>
<path d="M2360.6,1341.5 A12.6,12.6 0 1 0 2362.2,1350.5 H2350" fill="none" stroke="#0a6fba" stroke-width="5.2"/>
<path d="M2371.2,1341.5 A7.2,7.2 0 1 1 2383.5,1346.5 L2371.5,1360.8 H2385.8" fill="none" stroke="#0a6fba" stroke-width="5" stroke-linejoin="round"/>
<path d="M2392.8,1324.6 L2383.3,1338.8 L2392.3,1341.2 L2389.3,1363.5 L2400.2,1339.2 L2394.2,1337.2 Z" fill="#e85a25"/>
<path d="M2402.4,1338.9 H2424.3 L2418.9,1344.9 H2400.2 Z M2398.6,1348.2 H2418.3 L2414,1354.2 H2397 Z M2395.3,1357 H2416.7 L2411.7,1363 H2393.1 Z" fill="#f39220"/>
<text x="2393" y="1335.3" font-size="8" font-weight="bold" fill="#e8562a" textLength="31" lengthAdjust="spacingAndGlyphs">FRANCE</text>
<text x="2339" y="1368.8" font-size="4.5" fill="#2a7ac8" textLength="75" lengthAdjust="spacingAndGlyphs">Optimisation des ressources énergétiques</text>
</svg></body></html>
